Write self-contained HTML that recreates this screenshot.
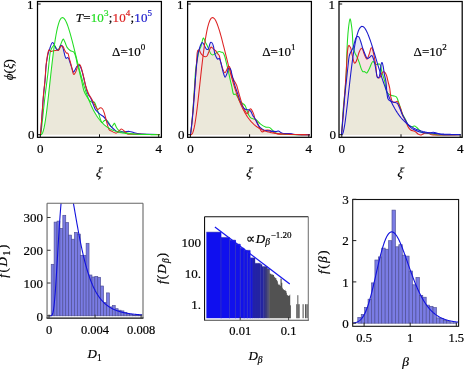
<!DOCTYPE html>
<html><head><meta charset="utf-8"><style>
html,body{margin:0;padding:0;background:#fff;overflow:hidden}
svg{display:block;font-family:"Liberation Serif",serif;will-change:transform}
</style></head><body>
<svg width="465" height="369" viewBox="0 0 465 369">
<rect width="465" height="369" fill="#fff"/>
<defs><clipPath id="c4"><rect x="47.05" y="203.2" width="95.95" height="114.9"/></clipPath>
<clipPath id="c5"><rect x="204.55" y="216.7" width="103.75" height="103.5"/></clipPath>
<clipPath id="c6"><rect x="352.7" y="199.5" width="105.9" height="126.8"/></clipPath></defs>
<g stroke="#4e4e94" stroke-width="0.65" fill="#7a7ce4">
<rect x="51.2" y="264.3" width="2.91" height="51.5"/>
<rect x="54.11" y="222.1" width="2.91" height="93.7"/>
<rect x="57.02" y="221.1" width="2.91" height="94.7"/>
<rect x="59.93" y="228.4" width="2.91" height="87.4"/>
<rect x="62.84" y="215.3" width="2.91" height="100.5"/>
<rect x="65.75" y="222.5" width="2.91" height="93.3"/>
<rect x="68.66" y="235.1" width="2.91" height="80.7"/>
<rect x="71.57" y="239.2" width="2.91" height="76.6"/>
<rect x="74.48" y="232.4" width="2.91" height="83.4"/>
<rect x="77.39" y="234.1" width="2.91" height="81.7"/>
<rect x="80.3" y="255.4" width="2.91" height="60.4"/>
<rect x="83.21" y="255.4" width="2.91" height="60.4"/>
<rect x="86.12" y="243.3" width="2.91" height="72.5"/>
<rect x="89.03" y="275" width="2.91" height="40.8"/>
<rect x="91.94" y="277" width="2.91" height="38.8"/>
<rect x="94.85" y="276.4" width="2.91" height="39.4"/>
<rect x="97.76" y="277.3" width="2.91" height="38.5"/>
<rect x="100.67" y="286" width="2.91" height="29.8"/>
<rect x="103.58" y="302.4" width="2.91" height="13.4"/>
<rect x="106.49" y="292.9" width="2.91" height="22.9"/>
<rect x="109.4" y="306.9" width="2.91" height="8.9"/>
<rect x="112.31" y="305.5" width="2.91" height="10.3"/>
<rect x="115.22" y="308.7" width="2.91" height="7.1"/>
<rect x="118.13" y="310.2" width="2.91" height="5.6"/>
<rect x="121.04" y="310.9" width="2.91" height="4.9"/>
<rect x="123.95" y="312.3" width="2.91" height="3.5"/>
<rect x="126.86" y="314.6" width="2.91" height="1.2"/>
<rect x="129.77" y="314.6" width="2.91" height="1.2"/>
<rect x="132.68" y="315.2" width="2.91" height="0.6"/>
<rect x="135.59" y="315.2" width="2.91" height="0.6"/>
<rect x="138.5" y="315.2" width="2.91" height="0.6"/>
</g>
<path d="M49.23,315.8 L49.47,315.8 L49.7,315.8 L49.93,315.8 L50.17,315.8 L50.4,315.8 L50.64,315.79 L50.87,315.77 L51.1,315.74 L51.34,315.66 L51.57,315.54 L51.8,315.35 L52.04,315.05 L52.27,314.64 L52.51,314.09 L52.74,313.37 L52.97,312.47 L53.21,311.37 L53.44,310.05 L53.67,308.5 L53.91,306.73 L54.14,304.73 L54.38,302.5 L54.61,300.04 L54.84,297.37 L55.08,294.5 L55.31,291.44 L55.54,288.2 L55.78,284.81 L56.01,281.28 L56.24,277.62 L56.48,273.87 L56.71,270.03 L56.95,266.12 L57.18,262.18 L57.41,258.2 L57.65,254.22 L57.88,250.24 L58.11,246.29 L58.35,242.37 L58.58,238.51 L58.82,234.7 L59.05,230.98 L59.28,227.34 L59.52,223.79 L59.75,220.35 L59.98,217.02 L60.22,213.8 L60.45,210.71 L60.69,207.75 L60.92,204.91 L61.15,202.21 L61.39,199.65 L61.62,197.22 L61.85,194.94 L62.09,192.79 L62.32,190.78 L62.55,188.91 L62.79,187.18 L63.02,185.58 L63.26,184.12 L63.49,182.79 L63.72,181.58 L63.96,180.51 L64.19,179.55 L64.42,178.72 L64.66,178.01 L64.89,177.4 L65.13,176.91 L65.36,176.53 L65.59,176.25 L65.83,176.07 L66.06,175.98 L66.29,175.99 L66.53,176.08 L66.76,176.26 L67,176.52 L67.23,176.86 L67.46,177.28 L67.7,177.76 L67.93,178.31 L68.16,178.92 L68.4,179.59 L68.63,180.33 L68.86,181.11 L69.1,181.94 L69.33,182.83 L69.57,183.75 L69.8,184.72 L70.03,185.73 L70.27,186.78 L70.5,187.86 L70.73,188.97 L70.97,190.11 L71.2,191.27 L71.44,192.46 L71.67,193.68 L71.9,194.91 L72.14,196.16 L72.37,197.43 L72.6,198.72 L72.84,200.01 L73.07,201.32 L73.31,202.64 L73.54,203.97 L73.77,205.3 L74.01,206.64 L74.24,207.98 L74.47,209.33 L74.71,210.68 L74.94,212.03 L75.17,213.38 L75.41,214.72 L75.64,216.07 L75.88,217.41 L76.11,218.75 L76.34,220.08 L76.58,221.41 L76.81,222.73 L77.04,224.05 L77.28,225.36 L77.51,226.66 L77.75,227.95 L77.98,229.23 L78.21,230.5 L78.45,231.77 L78.68,233.02 L78.91,234.26 L79.15,235.49 L79.38,236.71 L79.61,237.92 L79.85,239.11 L80.08,240.3 L80.32,241.47 L80.55,242.63 L80.78,243.77 L81.02,244.91 L81.25,246.03 L81.48,247.14 L81.72,248.23 L81.95,249.31 L82.19,250.38 L82.42,251.43 L82.65,252.47 L82.89,253.5 L83.12,254.52 L83.35,255.52 L83.59,256.5 L83.82,257.48 L84.06,258.44 L84.29,259.39 L84.52,260.32 L84.76,261.24 L84.99,262.15 L85.22,263.04 L85.46,263.92 L85.69,264.79 L85.92,265.65 L86.16,266.49 L86.39,267.32 L86.63,268.14 L86.86,268.95 L87.09,269.74 L87.33,270.52 L87.56,271.29 L87.79,272.05 L88.03,272.79 L88.26,273.52 L88.5,274.25 L88.73,274.96 L88.96,275.65 L89.2,276.34 L89.43,277.02 L89.66,277.68 L89.9,278.34 L90.13,278.98 L90.37,279.61 L90.6,280.24 L90.83,280.85 L91.07,281.45 L91.3,282.05 L91.53,282.63 L91.77,283.2 L92,283.76 L92.23,284.32 L92.47,284.86 L92.7,285.4 L92.94,285.92 L93.17,286.44 L93.4,286.95 L93.64,287.45 L93.87,287.94 L94.1,288.42 L94.34,288.9 L94.57,289.36 L94.81,289.82 L95.04,290.27 L95.27,290.72 L95.51,291.15 L95.74,291.58 L95.97,292 L96.21,292.41 L96.44,292.82 L96.68,293.22 L96.91,293.61 L97.14,293.99 L97.38,294.37 L97.61,294.74 L97.84,295.11 L98.08,295.47 L98.31,295.82 L98.54,296.16 L98.78,296.5 L99.01,296.84 L99.25,297.17 L99.48,297.49 L99.71,297.8 L99.95,298.12 L100.18,298.42 L100.41,298.72 L100.65,299.02 L100.88,299.31 L101.12,299.59 L101.35,299.87 L101.58,300.14 L101.82,300.41 L102.05,300.68 L102.28,300.94 L102.52,301.19 L102.75,301.45 L102.99,301.69 L103.22,301.93 L103.45,302.17 L103.69,302.41 L103.92,302.64 L104.15,302.86 L104.39,303.08 L104.62,303.3 L104.85,303.51 L105.09,303.72 L105.32,303.93 L105.56,304.13 L105.79,304.33 L106.02,304.53 L106.26,304.72 L106.49,304.91 L106.72,305.09 L106.96,305.28 L107.19,305.45 L107.43,305.63 L107.66,305.8 L107.89,305.97 L108.13,306.14 L108.36,306.3 L108.59,306.46 L108.83,306.62 L109.06,306.78 L109.3,306.93 L109.53,307.08 L109.76,307.22 L110,307.37 L110.23,307.51 L110.46,307.65 L110.7,307.79 L110.93,307.92 L111.16,308.05 L111.4,308.18 L111.63,308.31 L111.87,308.44 L112.1,308.56 L112.33,308.68 L112.57,308.8 L112.8,308.91 L113.03,309.03 L113.27,309.14 L113.5,309.25 L113.74,309.36 L113.97,309.47 L114.2,309.57 L114.44,309.68 L114.67,309.78 L114.9,309.88 L115.14,309.97 L115.37,310.07 L115.61,310.17 L115.84,310.26 L116.07,310.35 L116.31,310.44 L116.54,310.53 L116.77,310.61 L117.01,310.7 L117.24,310.78 L117.47,310.86 L117.71,310.95 L117.94,311.02 L118.18,311.1 L118.41,311.18 L118.64,311.25 L118.88,311.33 L119.11,311.4 L119.34,311.47 L119.58,311.54 L119.81,311.61 L120.05,311.68 L120.28,311.75 L120.51,311.81 L120.75,311.88 L120.98,311.94 L121.21,312 L121.45,312.06 L121.68,312.12 L121.92,312.18 L122.15,312.24 L122.38,312.3 L122.62,312.35 L122.85,312.41 L123.08,312.46 L123.32,312.52 L123.55,312.57 L123.78,312.62 L124.02,312.67 L124.25,312.72 L124.49,312.77 L124.72,312.82 L124.95,312.86 L125.19,312.91 L125.42,312.96 L125.65,313 L125.89,313.05 L126.12,313.09 L126.36,313.13 L126.59,313.17 L126.82,313.22 L127.06,313.26 L127.29,313.3 L127.52,313.34 L127.76,313.37 L127.99,313.41 L128.23,313.45 L128.46,313.49 L128.69,313.52 L128.93,313.56 L129.16,313.59 L129.39,313.63 L129.63,313.66 L129.86,313.69 L130.09,313.73 L130.33,313.76 L130.56,313.79 L130.8,313.82 L131.03,313.85 L131.26,313.88 L131.5,313.91 L131.73,313.94 L131.96,313.97 L132.2,314 L132.43,314.03 L132.67,314.05 L132.9,314.08 L133.13,314.11 L133.37,314.13 L133.6,314.16 L133.83,314.18 L134.07,314.21 L134.3,314.23 L134.54,314.26 L134.77,314.28 L135,314.3 L135.24,314.32 L135.47,314.35 L135.7,314.37 L135.94,314.39 L136.17,314.41 L136.4,314.43 L136.64,314.45 L136.87,314.47 L137.11,314.49 L137.34,314.51 L137.57,314.53 L137.81,314.55 L138.04,314.57 L138.27,314.59 L138.51,314.61 L138.74,314.62 L138.98,314.64 L139.21,314.66 L139.44,314.68 L139.68,314.69 L139.91,314.71 L140.14,314.73 L140.38,314.74 L140.61,314.76 L140.84,314.77 L141.08,314.79 L141.31,314.8 L141.55,314.82 L141.78,314.83 L142.01,314.85 L142.25,314.86" fill="none" stroke="#1010dd" stroke-width="1.1" clip-path="url(#c4)"/>
<line x1="47.05" y1="203.2" x2="143" y2="203.2" stroke="#666" stroke-width="1.1"/>
<line x1="47.05" y1="203.2" x2="47.05" y2="318.1" stroke="#666" stroke-width="1.1"/>
<line x1="143" y1="203.2" x2="143" y2="318.1" stroke="#666" stroke-width="1.1"/>
<line x1="46.55" y1="318.1" x2="143.5" y2="318.1" stroke="#111" stroke-width="1.1"/>
<line x1="47.05" y1="315.8" x2="50.55" y2="315.8" stroke="#333" stroke-width="1"/>
<text x="43" y="320.5" font-size="13" text-anchor="end" fill="#000" stroke="#000" stroke-width="0.2" style="">0</text>
<line x1="47.05" y1="283.03" x2="50.55" y2="283.03" stroke="#333" stroke-width="1"/>
<text x="43" y="287.73" font-size="13" text-anchor="end" fill="#000" stroke="#000" stroke-width="0.2" style="">100</text>
<line x1="47.05" y1="250.26" x2="50.55" y2="250.26" stroke="#333" stroke-width="1"/>
<text x="43" y="254.96" font-size="13" text-anchor="end" fill="#000" stroke="#000" stroke-width="0.2" style="">200</text>
<line x1="47.05" y1="217.49" x2="50.55" y2="217.49" stroke="#333" stroke-width="1"/>
<text x="43" y="222.19" font-size="13" text-anchor="end" fill="#000" stroke="#000" stroke-width="0.2" style="">300</text>
<line x1="49" y1="318.1" x2="49" y2="314.6" stroke="#333" stroke-width="1"/>
<text x="49" y="333.9" font-size="12.5" text-anchor="middle" fill="#000" stroke="#000" stroke-width="0.2" style="">0</text>
<line x1="95.05" y1="318.1" x2="95.05" y2="314.6" stroke="#333" stroke-width="1"/>
<text x="95.05" y="333.9" font-size="12.5" text-anchor="middle" fill="#000" stroke="#000" stroke-width="0.2" style="">0.004</text>
<line x1="141.1" y1="318.1" x2="141.1" y2="314.6" stroke="#333" stroke-width="1"/>
<text x="141.1" y="333.9" font-size="12.5" text-anchor="middle" fill="#000" stroke="#000" stroke-width="0.2" style="">0.008</text>
<text x="87.6" y="358" font-size="13" fill="#000" stroke="#000" stroke-width="0.2"><tspan font-style="italic">D</tspan><tspan font-size="9.5" dy="2.8">1</tspan></text>
<text transform="translate(6.9,261.2) rotate(-90)" font-size="13" text-anchor="middle" textLength="33" lengthAdjust="spacing" fill="#000" stroke="#000" stroke-width="0.2"><tspan font-style="italic">f</tspan>(<tspan font-style="italic">D</tspan><tspan font-size="9.5" dy="2.8">1</tspan><tspan dy="-2.8">)</tspan></text>
<g clip-path="url(#c5)">
<rect x="206.37" y="232.1" width="14.97" height="86.1" fill="#0f0fef"/>
<rect x="220.94" y="237.4" width="8.92" height="80.8" fill="#1010ed"/>
<rect x="229.46" y="240.1" width="6.45" height="78.1" fill="#1111ec"/>
<rect x="235.51" y="244.1" width="5.09" height="74.1" fill="#1111eb"/>
<rect x="240.2" y="248.1" width="4.23" height="70.1" fill="#1111ea"/>
<rect x="244.03" y="250.3" width="3.64" height="67.9" fill="#1212e9"/>
<rect x="247.27" y="250.3" width="3.21" height="67.9" fill="#1212e8"/>
<rect x="250.08" y="257.9" width="2.88" height="60.3" fill="#1515da"/>
<rect x="252.56" y="257.9" width="2.61" height="60.3" fill="#2222a7"/>
<rect x="254.77" y="263.3" width="2.4" height="54.9" fill="#2323a6"/>
<rect x="256.77" y="263.3" width="2.23" height="54.9" fill="#2323a4"/>
<rect x="258.6" y="263.3" width="2.08" height="54.9" fill="#2323a3"/>
<rect x="260.28" y="264.4" width="1.96" height="53.8" fill="#2424a1"/>
<rect x="261.84" y="266.6" width="1.85" height="51.6" fill="#2424a0"/>
<rect x="263.29" y="266.6" width="1.76" height="51.6" fill="#2d2d92"/>
<rect x="264.65" y="266.6" width="1.67" height="51.6" fill="#373782"/>
<rect x="265.92" y="266.6" width="1.6" height="51.6" fill="#3c3c78"/>
<rect x="267.13" y="268.75" width="1.54" height="49.45" fill="#41416e"/>
<rect x="268.26" y="268.95" width="1.48" height="49.25" fill="#454566"/>
<line x1="220.94" y1="237.4" x2="220.94" y2="318.2" stroke="#4040b0" stroke-width="0.6"/>
<line x1="229.46" y1="240.1" x2="229.46" y2="318.2" stroke="#4040b0" stroke-width="0.6"/>
<line x1="235.51" y1="244.1" x2="235.51" y2="318.2" stroke="#4040b0" stroke-width="0.6"/>
<line x1="240.2" y1="248.1" x2="240.2" y2="318.2" stroke="#4040b0" stroke-width="0.6"/>
<line x1="244.03" y1="250.3" x2="244.03" y2="318.2" stroke="#4040b0" stroke-width="0.6"/>
<line x1="247.27" y1="250.3" x2="247.27" y2="318.2" stroke="#4040b0" stroke-width="0.6"/>
<line x1="250.08" y1="257.9" x2="250.08" y2="318.2" stroke="#4040b0" stroke-width="0.6"/>
<line x1="206.37" y1="232.1" x2="220.94" y2="232.1" stroke="#3a3aa0" stroke-width="0.5"/>
<line x1="220.94" y1="237.4" x2="229.46" y2="237.4" stroke="#3a3aa0" stroke-width="0.5"/>
<line x1="229.46" y1="240.1" x2="235.51" y2="240.1" stroke="#3a3aa0" stroke-width="0.5"/>
<line x1="235.51" y1="244.1" x2="240.2" y2="244.1" stroke="#3a3aa0" stroke-width="0.5"/>
<line x1="240.2" y1="248.1" x2="244.03" y2="248.1" stroke="#3a3aa0" stroke-width="0.5"/>
<line x1="244.03" y1="250.3" x2="247.27" y2="250.3" stroke="#3a3aa0" stroke-width="0.5"/>
<line x1="247.27" y1="250.3" x2="250.08" y2="250.3" stroke="#3a3aa0" stroke-width="0.5"/>
<line x1="250.08" y1="257.9" x2="252.56" y2="257.9" stroke="#3a3aa0" stroke-width="0.5"/>
<line x1="252.56" y1="257.9" x2="254.77" y2="257.9" stroke="#3a3aa0" stroke-width="0.5"/>
<line x1="254.77" y1="263.3" x2="256.77" y2="263.3" stroke="#3a3aa0" stroke-width="0.5"/>
<line x1="256.77" y1="263.3" x2="258.6" y2="263.3" stroke="#3a3aa0" stroke-width="0.5"/>
<line x1="258.6" y1="263.3" x2="260.28" y2="263.3" stroke="#3a3aa0" stroke-width="0.5"/>
<line x1="260.28" y1="264.4" x2="261.84" y2="264.4" stroke="#3a3aa0" stroke-width="0.5"/>
<line x1="261.84" y1="266.6" x2="263.29" y2="266.6" stroke="#3a3aa0" stroke-width="0.5"/>
<line x1="263.29" y1="266.6" x2="264.65" y2="266.6" stroke="#3a3aa0" stroke-width="0.5"/>
<line x1="264.65" y1="266.6" x2="265.92" y2="266.6" stroke="#3a3aa0" stroke-width="0.5"/>
<line x1="265.92" y1="266.6" x2="267.13" y2="266.6" stroke="#3a3aa0" stroke-width="0.5"/>
<line x1="267.13" y1="268.75" x2="268.26" y2="268.75" stroke="#3a3aa0" stroke-width="0.5"/>
<line x1="268.26" y1="268.95" x2="269.34" y2="268.95" stroke="#3a3aa0" stroke-width="0.5"/>
<path d="M269.34,318.2 L269.34,273.41 L270.37,273.41 L270.37,273.64 L271.34,273.64 L271.34,274.38 L272.28,274.38 L272.28,274.44 L273.17,274.44 L273.17,275 L274.03,275 L274.03,276.8 L274.85,276.8 L274.85,277.72 L275.65,277.72 L275.65,278.23 L276.41,278.23 L276.41,279.95 L277.15,279.95 L277.15,281.36 L277.86,281.36 L277.86,283.79 L278.55,283.79 L278.55,284.93 L279.22,284.93 L279.22,284.42 L279.87,284.42 L279.87,285.73 L280.49,285.73 L280.49,278.41 L281.1,278.41 L281.1,278.87 L281.69,278.87 L281.69,282.7 L282.27,282.7 L282.27,287.86 L282.83,287.86 L282.83,289.32 L283.38,289.32 L283.38,289.23 L283.91,289.23 L283.91,290.12 L284.43,290.12 L284.43,290.16 L284.94,290.16 L284.94,289.74 L285.43,289.74 L285.43,290.94 L285.91,290.94 L285.91,291 L286.39,291 L286.39,292.84 L286.85,292.84 L286.85,294.77 L287.3,294.77 L287.3,295.33 L287.74,295.33 L287.74,295.13 L288.18,295.13 L288.18,295.74 L288.6,295.74 L288.6,295.91 L289.02,295.91 L289.02,295.16 L289.42,295.16 L289.42,295.46 L289.82,295.46 L289.82,294.5 L290.22,294.5 L290.22,318.2 Z" fill="#525252"/>
<rect x="290.1" y="305.3" width="0.8" height="12.9" fill="#484848"/>
<rect x="296.3" y="304.2" width="1.1" height="14" fill="#484848"/>
<rect x="297.4" y="295.2" width="0.9" height="23" fill="#484848"/>
<rect x="298.3" y="304.2" width="1.3" height="14" fill="#484848"/>
<rect x="302.6" y="304.2" width="1" height="14" fill="#484848"/>
<rect x="305" y="304.2" width="0.9" height="14" fill="#484848"/>
<rect x="306.4" y="304.2" width="1.3" height="14" fill="#484848"/>
</g>
<line x1="214.9" y1="226.9" x2="289.8" y2="284.1" stroke="#1818ee" stroke-width="1.2"/>
<line x1="240.2" y1="320.2" x2="240.2" y2="317" stroke="#333" stroke-width="0.9"/>
<line x1="288.6" y1="320.2" x2="288.6" y2="317" stroke="#333" stroke-width="0.9"/>
<line x1="204.55" y1="216.7" x2="308.3" y2="216.7" stroke="#111" stroke-width="1.1"/>
<line x1="204.55" y1="216.7" x2="204.55" y2="320.2" stroke="#111" stroke-width="1.1"/>
<line x1="308.3" y1="216.7" x2="308.3" y2="320.2" stroke="#777" stroke-width="1.1"/>
<line x1="204.05" y1="320.2" x2="308.8" y2="320.2" stroke="#444" stroke-width="1.1"/>
<text x="200.9" y="246.5" font-size="13" text-anchor="end" fill="#000" stroke="#000" stroke-width="0.2" style="">100</text>
<text x="200.9" y="277.8" font-size="13" text-anchor="end" fill="#000" stroke="#000" stroke-width="0.2" style="">10.</text>
<text x="200.9" y="309.1" font-size="13" text-anchor="end" fill="#000" stroke="#000" stroke-width="0.2" style="">1.</text>
<text x="240.2" y="335.4" font-size="12.5" text-anchor="middle" fill="#000" stroke="#000" stroke-width="0.2" style="">0.01</text>
<text x="288.6" y="335.4" font-size="12.5" text-anchor="middle" fill="#000" stroke="#000" stroke-width="0.2" style="">0.1</text>
<text x="248.4" y="360.2" font-size="13" fill="#000" stroke="#000" stroke-width="0.2"><tspan font-style="italic">D</tspan><tspan font-size="9.5" dy="2.8" font-style="italic">&#946;</tspan></text>
<text transform="translate(165.7,268.4) rotate(-90)" font-size="13" text-anchor="middle" textLength="31" lengthAdjust="spacing" fill="#000" stroke="#000" stroke-width="0.2"><tspan font-style="italic">f</tspan>(<tspan font-style="italic">D</tspan><tspan font-size="9.5" dy="2.8" font-style="italic">&#946;</tspan><tspan dy="-2.8">)</tspan></text>
<text x="246.2" y="242.6" font-size="13" fill="#000" stroke="#000" stroke-width="0.2">&#8733;<tspan font-style="italic" dx="0.6">D</tspan><tspan font-size="9.5" dy="2.4" font-style="italic">&#946;</tspan><tspan font-size="9" dy="-7.1" dx="0.8">&#8722;1.20</tspan></text>
<g stroke="#4e4e94" stroke-width="0.65" fill="#7a7ce4">
<rect x="357.8" y="317.4" width="3.42" height="5.8"/>
<rect x="361.22" y="314.4" width="3.42" height="8.8"/>
<rect x="364.64" y="307.5" width="3.42" height="15.7"/>
<rect x="368.06" y="299.2" width="3.42" height="24"/>
<rect x="371.48" y="282.9" width="3.42" height="40.3"/>
<rect x="374.9" y="260" width="3.42" height="63.2"/>
<rect x="378.32" y="256.9" width="3.42" height="66.3"/>
<rect x="381.74" y="248.1" width="3.42" height="75.1"/>
<rect x="385.16" y="249.2" width="3.42" height="74"/>
<rect x="388.58" y="240.7" width="3.42" height="82.5"/>
<rect x="392" y="210.1" width="3.42" height="113.1"/>
<rect x="395.42" y="246.8" width="3.42" height="76.4"/>
<rect x="398.84" y="244.7" width="3.42" height="78.5"/>
<rect x="402.26" y="255.1" width="3.42" height="68.1"/>
<rect x="405.68" y="256.1" width="3.42" height="67.1"/>
<rect x="409.1" y="271" width="3.42" height="52.2"/>
<rect x="412.52" y="284.8" width="3.42" height="38.4"/>
<rect x="415.94" y="277.5" width="3.42" height="45.7"/>
<rect x="419.36" y="295.4" width="3.42" height="27.8"/>
<rect x="422.78" y="297.2" width="3.42" height="26"/>
<rect x="426.2" y="305.1" width="3.42" height="18.1"/>
<rect x="429.62" y="306.3" width="3.42" height="16.9"/>
<rect x="433.04" y="307.6" width="3.42" height="15.6"/>
<rect x="436.46" y="317.9" width="3.42" height="5.3"/>
<rect x="439.88" y="318.5" width="3.42" height="4.7"/>
<rect x="443.3" y="320.4" width="3.42" height="2.8"/>
<rect x="446.72" y="321.6" width="3.42" height="1.6"/>
<rect x="450.14" y="322.8" width="3.42" height="0.4"/>
<rect x="453.56" y="322.8" width="3.42" height="0.4"/>
</g>
<path d="M353.22,322.95 L353.57,322.91 L353.92,322.86 L354.27,322.81 L354.62,322.75 L354.97,322.68 L355.33,322.6 L355.68,322.51 L356.03,322.41 L356.38,322.3 L356.73,322.18 L357.08,322.04 L357.43,321.89 L357.78,321.73 L358.13,321.54 L358.48,321.34 L358.84,321.12 L359.19,320.89 L359.54,320.63 L359.89,320.35 L360.24,320.04 L360.59,319.71 L360.94,319.36 L361.29,318.98 L361.64,318.57 L361.99,318.13 L362.34,317.66 L362.7,317.16 L363.05,316.63 L363.4,316.07 L363.75,315.47 L364.1,314.84 L364.45,314.18 L364.8,313.48 L365.15,312.74 L365.5,311.97 L365.85,311.16 L366.2,310.32 L366.56,309.44 L366.91,308.52 L367.26,307.56 L367.61,306.57 L367.96,305.54 L368.31,304.48 L368.66,303.38 L369.01,302.25 L369.36,301.08 L369.71,299.88 L370.06,298.64 L370.42,297.38 L370.77,296.09 L371.12,294.77 L371.47,293.42 L371.82,292.04 L372.17,290.65 L372.52,289.23 L372.87,287.79 L373.22,286.33 L373.57,284.85 L373.92,283.36 L374.28,281.85 L374.63,280.34 L374.98,278.82 L375.33,277.28 L375.68,275.75 L376.03,274.21 L376.38,272.67 L376.73,271.14 L377.08,269.61 L377.43,268.08 L377.78,266.56 L378.14,265.06 L378.49,263.56 L378.84,262.09 L379.19,260.63 L379.54,259.18 L379.89,257.76 L380.24,256.37 L380.59,254.99 L380.94,253.65 L381.29,252.33 L381.64,251.05 L382,249.79 L382.35,248.57 L382.7,247.39 L383.05,246.24 L383.4,245.13 L383.75,244.06 L384.1,243.03 L384.45,242.04 L384.8,241.09 L385.15,240.19 L385.5,239.33 L385.86,238.51 L386.21,237.75 L386.56,237.03 L386.91,236.35 L387.26,235.72 L387.61,235.14 L387.96,234.61 L388.31,234.13 L388.66,233.69 L389.01,233.3 L389.36,232.96 L389.72,232.67 L390.07,232.42 L390.42,232.22 L390.77,232.07 L391.12,231.96 L391.47,231.9 L391.82,231.89 L392.17,231.92 L392.52,231.99 L392.87,232.11 L393.22,232.27 L393.58,232.47 L393.93,232.72 L394.28,233 L394.63,233.32 L394.98,233.68 L395.33,234.07 L395.68,234.51 L396.03,234.97 L396.38,235.47 L396.73,236.01 L397.08,236.57 L397.44,237.17 L397.79,237.79 L398.14,238.44 L398.49,239.12 L398.84,239.83 L399.19,240.56 L399.54,241.31 L399.89,242.09 L400.24,242.89 L400.59,243.7 L400.94,244.54 L401.3,245.4 L401.65,246.27 L402,247.15 L402.35,248.05 L402.7,248.97 L403.05,249.9 L403.4,250.83 L403.75,251.78 L404.1,252.74 L404.45,253.71 L404.8,254.68 L405.16,255.66 L405.51,256.65 L405.86,257.63 L406.21,258.63 L406.56,259.62 L406.91,260.62 L407.26,261.62 L407.61,262.62 L407.96,263.62 L408.31,264.62 L408.66,265.62 L409.02,266.61 L409.37,267.6 L409.72,268.59 L410.07,269.57 L410.42,270.55 L410.77,271.53 L411.12,272.49 L411.47,273.46 L411.82,274.41 L412.17,275.36 L412.53,276.3 L412.88,277.23 L413.23,278.15 L413.58,279.06 L413.93,279.97 L414.28,280.86 L414.63,281.75 L414.98,282.62 L415.33,283.49 L415.68,284.34 L416.03,285.19 L416.39,286.02 L416.74,286.84 L417.09,287.65 L417.44,288.45 L417.79,289.24 L418.14,290.01 L418.49,290.78 L418.84,291.53 L419.19,292.27 L419.54,293 L419.89,293.71 L420.25,294.42 L420.6,295.11 L420.95,295.79 L421.3,296.46 L421.65,297.12 L422,297.76 L422.35,298.39 L422.7,299.01 L423.05,299.62 L423.4,300.22 L423.75,300.81 L424.11,301.38 L424.46,301.94 L424.81,302.49 L425.16,303.03 L425.51,303.56 L425.86,304.08 L426.21,304.58 L426.56,305.08 L426.91,305.56 L427.26,306.04 L427.61,306.5 L427.97,306.96 L428.32,307.4 L428.67,307.83 L429.02,308.26 L429.37,308.67 L429.72,309.07 L430.07,309.47 L430.42,309.85 L430.77,310.23 L431.12,310.59 L431.47,310.95 L431.83,311.3 L432.18,311.64 L432.53,311.97 L432.88,312.3 L433.23,312.61 L433.58,312.92 L433.93,313.22 L434.28,313.51 L434.63,313.79 L434.98,314.07 L435.33,314.34 L435.69,314.6 L436.04,314.86 L436.39,315.11 L436.74,315.35 L437.09,315.59 L437.44,315.82 L437.79,316.04 L438.14,316.26 L438.49,316.47 L438.84,316.67 L439.19,316.87 L439.55,317.07 L439.9,317.26 L440.25,317.44 L440.6,317.62 L440.95,317.79 L441.3,317.96 L441.65,318.12 L442,318.28 L442.35,318.44 L442.7,318.59 L443.05,318.73 L443.41,318.87 L443.76,319.01 L444.11,319.14 L444.46,319.27 L444.81,319.4 L445.16,319.52 L445.51,319.64 L445.86,319.75 L446.21,319.86 L446.56,319.97 L446.91,320.07 L447.27,320.18 L447.62,320.27 L447.97,320.37 L448.32,320.46 L448.67,320.55 L449.02,320.64 L449.37,320.72 L449.72,320.8 L450.07,320.88 L450.42,320.96 L450.77,321.03 L451.13,321.1 L451.48,321.17 L451.83,321.24 L452.18,321.31 L452.53,321.37 L452.88,321.43 L453.23,321.49 L453.58,321.55 L453.93,321.6 L454.28,321.66 L454.63,321.71 L454.99,321.76 L455.34,321.81 L455.69,321.85 L456.04,321.9 L456.39,321.94 L456.74,321.99 L457.09,322.03 L457.44,322.07 L457.79,322.11 L458.14,322.14" fill="none" stroke="#1010dd" stroke-width="1.1" clip-path="url(#c6)"/>
<rect x="352.7" y="199.5" width="105.9" height="126.8" fill="none" stroke="#111" stroke-width="1.1"/>
<line x1="352.7" y1="323.2" x2="356.3" y2="323.2" stroke="#222" stroke-width="1"/>
<text x="348.7" y="327.8" font-size="13" text-anchor="end" fill="#000" stroke="#000" stroke-width="0.2" style="">0</text>
<line x1="352.7" y1="281.9" x2="356.3" y2="281.9" stroke="#222" stroke-width="1"/>
<text x="348.7" y="286.5" font-size="13" text-anchor="end" fill="#000" stroke="#000" stroke-width="0.2" style="">1</text>
<line x1="352.7" y1="240.6" x2="356.3" y2="240.6" stroke="#222" stroke-width="1"/>
<text x="348.7" y="245.2" font-size="13" text-anchor="end" fill="#000" stroke="#000" stroke-width="0.2" style="">2</text>
<line x1="352.7" y1="199.3" x2="356.3" y2="199.3" stroke="#222" stroke-width="1"/>
<text x="348.7" y="203.9" font-size="13" text-anchor="end" fill="#000" stroke="#000" stroke-width="0.2" style="">3</text>
<line x1="364.1" y1="326.3" x2="364.1" y2="322.7" stroke="#222" stroke-width="1"/>
<text x="364.1" y="342.3" font-size="12.5" text-anchor="middle" fill="#000" stroke="#000" stroke-width="0.2" style="">0.5</text>
<line x1="410.2" y1="326.3" x2="410.2" y2="322.7" stroke="#222" stroke-width="1"/>
<text x="410.2" y="342.3" font-size="12.5" text-anchor="middle" fill="#000" stroke="#000" stroke-width="0.2" style="">1</text>
<line x1="456.3" y1="326.3" x2="456.3" y2="322.7" stroke="#222" stroke-width="1"/>
<text x="456.3" y="342.3" font-size="12.5" text-anchor="middle" fill="#000" stroke="#000" stroke-width="0.2" style="">1.5</text>
<text x="405.6" y="366.2" font-size="13.5" text-anchor="middle" fill="#000" stroke="#000" stroke-width="0.2" style="font-style:italic;">&#946;</text>
<text transform="translate(327.4,262.2) rotate(-90)" font-size="13" text-anchor="middle" textLength="23.5" lengthAdjust="spacing" fill="#000" stroke="#000" stroke-width="0.2"><tspan font-style="italic">f</tspan>(<tspan font-style="italic">&#946;</tspan>)</text>
<path d="M40.3,134.7 L40.3,134.7 L40.55,134.67 L40.8,134.65 L41.05,134.62 L41.3,134.45 L41.55,134.28 L41.8,134.1 L42.05,133.7 L42.3,133.3 L42.55,132.89 L42.8,132.2 L43.05,131.52 L43.3,130.82 L43.55,129.84 L43.8,128.86 L44.05,127.86 L44.3,126.59 L44.55,125.32 L44.8,124.03 L45.05,122.48 L45.3,120.94 L45.55,119.39 L45.8,117.61 L46.05,115.84 L46.3,114.05 L46.55,112.08 L46.8,110.11 L47.05,108.13 L47.3,106.02 L47.55,103.9 L47.8,101.77 L48.05,99.55 L48.3,97.33 L48.55,95.1 L48.8,92.82 L49.05,90.53 L49.3,88.25 L49.55,85.94 L49.8,83.64 L50.05,81.33 L50.3,79.04 L50.55,76.75 L50.8,74.47 L51.05,72.23 L51.3,69.99 L51.55,67.76 L51.8,65.6 L52.05,63.44 L52.3,61.3 L52.55,59.24 L52.8,57.18 L53.05,55.14 L53.3,53.21 L53.55,51.27 L53.8,50.8 L54.05,50.76 L54.3,50.72 L54.55,50.68 L54.8,50.63 L55.05,50.59 L55.3,50.53 L55.55,50.46 L55.8,50.4 L56.05,50.34 L56.3,50.28 L56.55,50.21 L56.8,50.2 L57.05,50.2 L57.3,50.2 L57.55,50.2 L57.8,50.2 L58.05,50.2 L58.3,50.2 L58.55,49.93 L58.8,49.66 L59.05,49.39 L59.3,49.12 L59.55,48.8 L59.8,48.3 L60.05,47.8 L60.3,47.3 L60.55,46.8 L60.8,46.48 L61.05,46.41 L61.3,46.35 L61.55,46.29 L61.8,46.23 L62.05,46.16 L62.3,46.1 L62.55,46.87 L62.8,47.64 L63.05,48.41 L63.3,49.18 L63.55,50.02 L63.8,51.09 L64.05,52.17 L64.3,53.25 L64.55,54.32 L64.8,55.4 L65.05,56 L65.3,56.61 L65.55,57.21 L65.8,57.82 L66.05,58.27 L66.3,58.15 L66.55,58.02 L66.8,57.9 L67.05,57.77 L67.3,57.65 L67.55,57.52 L67.8,57.7 L68.05,57.95 L68.3,58.2 L68.55,58.45 L68.8,58.7 L69.05,59.48 L69.3,60.26 L69.55,61.04 L69.8,61.82 L70.05,62.61 L70.3,63.39 L70.55,64.15 L70.8,64.9 L71.05,65.65 L71.3,66.4 L71.55,67.15 L71.8,67.9 L72.05,68.65 L72.3,69.4 L72.55,70.4 L72.8,71.4 L73.05,72.4 L73.3,73.4 L73.55,74.14 L73.8,73.85 L74.05,73.56 L74.3,73.27 L74.55,72.98 L74.8,72.69 L75.05,72.4 L75.3,72.11 L75.55,71.82 L75.8,71.53 L76.05,71.15 L76.3,70.37 L76.55,69.6 L76.8,68.82 L77.05,68.05 L77.3,67.28 L77.55,66.5 L77.8,66.05 L78.05,66.92 L78.3,67.8 L78.55,68.67 L78.8,69.55 L79.05,70.42 L79.3,71.3 L79.55,72.21 L79.8,73.26 L80.05,74.31 L80.3,75.37 L80.55,76.42 L80.8,77.47 L81.05,78.52 L81.3,79.57 L81.55,80.63 L81.8,81.68 L82.05,82.74 L82.3,83.8 L82.55,84.85 L82.8,85.91 L83.05,86.97 L83.3,88.03 L83.55,89.09 L83.8,90.15 L84.05,91.1 L84.3,91.57 L84.55,92.05 L84.8,92.53 L85.05,93.01 L85.3,93.49 L85.55,93.96 L85.8,94.44 L86.05,94.92 L86.3,95.4 L86.55,95.87 L86.8,96.35 L87.05,96.83 L87.3,97.31 L87.55,97.69 L87.8,97.99 L88.05,98.3 L88.3,98.61 L88.55,99.11 L88.8,99.76 L89.05,100.39 L89.3,101.01 L89.55,101.64 L89.8,102.24 L90.05,102.84 L90.3,103.44 L90.55,104.02 L90.8,104.59 L91.05,105.16 L91.3,105.71 L91.55,106.26 L91.8,106.81 L92.05,107.33 L92.3,107.86 L92.55,108.38 L92.8,108.88 L93.05,109.38 L93.3,109.88 L93.55,110.36 L93.8,110.83 L94.05,111.3 L94.3,111.76 L94.55,112.21 L94.8,112.66 L95.05,113.09 L95.3,113.52 L95.55,113.95 L95.8,114.36 L96.05,114.77 L96.3,115.18 L96.55,115.57 L96.8,115.95 L97.05,116.34 L97.3,116.71 L97.55,117.08 L97.8,117.44 L98.05,117.79 L98.3,118.14 L98.55,118.49 L98.8,118.82 L99.05,119.15 L99.3,119.48 L99.55,119.79 L99.8,120.1 L100.05,120.41 L100.3,120.71 L100.55,121 L100.8,121.3 L101.05,121.58 L101.3,121.86 L101.55,122.13 L101.8,122.4 L102.05,122.66 L102.3,122.92 L102.55,123.17 L102.8,123.42 L103.05,123.67 L103.3,123.9 L103.55,124.14 L103.8,124.37 L104.05,124.59 L104.3,124.81 L104.55,125.03 L104.8,125.24 L105.05,125.45 L105.3,125.65 L105.55,125.85 L105.8,126.04 L106.05,126.24 L106.3,126.42 L106.55,126.61 L106.8,126.79 L107.05,126.96 L107.3,127.14 L107.55,127.31 L107.8,127.47 L108.05,127.63 L108.3,127.79 L108.55,128.15 L108.8,128.9 L109.05,129.53 L109.3,129.69 L109.55,129.86 L109.8,130.02 L110.05,130.18 L110.3,130.34 L110.55,130.51 L110.8,130.67 L111.05,130.82 L111.3,130.95 L111.55,131.07 L111.8,131.19 L112.05,131.31 L112.3,131.44 L112.55,131.56 L112.8,131.68 L113.05,131.8 L113.3,131.93 L113.55,132.05 L113.8,132.17 L114.05,132.29 L114.3,132.41 L114.55,132.54 L114.8,132.66 L115.05,132.78 L115.3,132.9 L115.55,133.03 L115.8,133.04 L116.05,132.9 L116.3,132.76 L116.55,132.61 L116.8,132.47 L117.05,132.33 L117.3,132.19 L117.55,132.04 L117.8,131.9 L118.05,131.94 L118.3,132 L118.55,132.06 L118.8,132.13 L119.05,132.19 L119.3,132.25 L119.55,132.31 L119.8,132.37 L120.05,132.42 L120.3,132.48 L120.55,132.53 L120.8,132.58 L121.05,132.64 L121.3,132.68 L121.55,132.73 L121.8,132.78 L122.05,132.83 L122.3,132.87 L122.55,132.92 L122.8,132.96 L123.05,133 L123.3,133.05 L123.55,133.09 L123.8,133.12 L124.05,133.16 L124.3,133.2 L124.55,133.24 L124.8,133.27 L125.05,133.31 L125.3,133.34 L125.55,133.38 L125.8,133.41 L126.05,133.44 L126.3,133.47 L126.55,133.5 L126.8,133.53 L127.05,133.56 L127.3,133.59 L127.55,133.72 L127.8,133.9 L128.05,134.09 L128.3,134.2 L128.55,134.2 L128.8,134.21 L129.05,134.21 L129.3,134.21 L129.55,134.21 L129.8,134.21 L130.05,134.22 L130.3,134.22 L130.55,134.22 L130.8,134.22 L131.05,134.22 L131.3,134.23 L131.55,134.23 L131.8,134.23 L132.05,134.23 L132.3,134.23 L132.55,134.24 L132.8,134.24 L133.05,134.24 L133.3,134.24 L133.55,134.25 L133.8,134.25 L134.05,134.25 L134.3,134.25 L134.55,134.25 L134.8,134.26 L135.05,134.26 L135.3,134.26 L135.55,134.26 L135.8,134.26 L136.05,134.27 L136.3,134.27 L136.55,134.27 L136.8,134.28 L137.05,134.29 L137.3,134.3 L137.55,134.31 L137.8,134.32 L138.05,134.33 L138.3,134.34 L138.55,134.35 L138.8,134.36 L139.05,134.37 L139.3,134.38 L139.55,134.39 L139.8,134.39 L140.05,134.4 L140.3,134.41 L140.55,134.42 L140.8,134.42 L141.05,134.43 L141.3,134.44 L141.55,134.44 L141.8,134.45 L142.05,134.46 L142.3,134.46 L142.55,134.47 L142.8,134.48 L143.05,134.48 L143.3,134.49 L143.55,134.49 L143.8,134.5 L144.05,134.5 L144.3,134.51 L144.55,134.51 L144.8,134.52 L145.05,134.52 L145.3,134.53 L145.55,134.53 L145.8,134.54 L146.05,134.54 L146.3,134.55 L146.55,134.55 L146.8,134.55 L147.05,134.56 L147.3,134.56 L147.55,134.57 L147.8,134.57 L148.05,134.57 L148.3,134.58 L148.55,134.58 L148.8,134.58 L149.05,134.59 L149.3,134.59 L149.55,134.59 L149.8,134.59 L150.05,134.6 L150.3,134.6 L150.55,134.6 L150.8,134.61 L151.05,134.61 L151.3,134.61 L151.55,134.61 L151.8,134.61 L152.05,134.62 L152.3,134.62 L152.55,134.62 L152.8,134.62 L153.05,134.63 L153.3,134.63 L153.55,134.63 L153.8,134.63 L154.05,134.63 L154.3,134.63 L154.55,134.64 L154.8,134.64 L155.05,134.64 L155.3,134.64 L155.55,134.64 L155.8,134.64 L156.05,134.65 L156.3,134.65 L156.55,134.65 L156.8,134.65 L157.05,134.65 L157.3,134.65 L157.55,134.65 L157.8,134.66 L158.05,134.66 L158.3,134.66 L158.55,134.66 L158.8,134.66 L159.05,134.66 L159.3,134.66 L159.55,134.66 L159.8,134.66 L160.05,134.66 L160.3,134.66 L160.3,134.7 Z" fill="#ebe8da" stroke="none"/>
<path d="M40.8,134.6C40.97,133.25 41.37,130.43 41.8,126.5C42.23,122.57 42.85,116.17 43.4,111C43.95,105.83 44.48,100.67 45.1,95.5C45.72,90.33 46.57,84.25 47.1,80C47.63,75.75 47.93,73.33 48.3,70C48.67,66.67 48.97,63 49.3,60C49.63,57 49.88,54 50.3,52C50.72,50 51.32,49 51.8,48C52.28,47 52.78,46.45 53.2,46C53.62,45.55 53.78,44.97 54.3,45.3C54.82,45.63 55.63,47.2 56.3,48C56.97,48.8 57.62,50.55 58.3,50.1C58.98,49.65 59.6,47.12 60.4,45.3C61.2,43.48 62.32,39.65 63.1,39.2C63.88,38.75 64.43,41.23 65.1,42.6C65.77,43.97 66.2,46.05 67.1,47.4C68,48.75 69.37,49.92 70.5,50.7C71.63,51.48 73,50.97 73.9,52.1C74.8,53.23 75.33,55.47 75.9,57.5C76.47,59.53 76.7,61.88 77.3,64.3C77.9,66.72 78.73,69.03 79.5,72C80.27,74.97 81.15,78.93 81.9,82.1C82.65,85.27 83.08,88.43 84,91C84.92,93.57 86.27,95.72 87.4,97.5C88.53,99.28 89.65,100.92 90.8,101.7C91.95,102.48 93.35,101.25 94.3,102.2C95.25,103.15 95.75,105.4 96.5,107.4C97.25,109.4 97.93,111.73 98.8,114.2C99.67,116.67 100.85,121.07 101.7,122.2C102.55,123.33 103.15,121.38 103.9,121C104.65,120.62 105.43,119.7 106.2,119.9C106.97,120.1 107.65,121.07 108.5,122.2C109.35,123.33 110.45,126.33 111.3,126.7C112.15,127.07 113.05,124.95 113.6,124.4C114.15,123.85 114.07,122.8 114.6,123.4C115.13,124 115.9,126.73 116.8,128C117.7,129.27 117.8,130.08 120,131C122.2,131.92 125.83,132.95 130,133.5C134.17,134.05 140,134.12 145,134.3C150,134.48 157.5,134.55 160,134.6" fill="none" stroke="#22dd22" stroke-width="1.05" stroke-linejoin="round"/>
<path d="M40.4,134.6C40.53,133.25 40.88,130.43 41.2,126.5C41.52,122.57 41.92,116.17 42.3,111C42.68,105.83 43.03,100.67 43.5,95.5C43.97,90.33 44.67,84.92 45.1,80C45.53,75.08 45.72,69.83 46.1,66C46.48,62.17 46.98,59.33 47.4,57C47.82,54.67 48.22,53.35 48.6,52C48.98,50.65 49.25,50.22 49.7,48.9C50.15,47.58 50.82,45.18 51.3,44.1C51.78,43.02 52.18,42.4 52.6,42.4C53.02,42.4 53.4,43.42 53.8,44.1C54.2,44.78 54.6,45.7 55,46.5C55.4,47.3 55.65,48.28 56.2,48.9C56.75,49.52 57.55,50.73 58.3,50.2C59.05,49.67 60.03,46.38 60.7,45.7C61.37,45.02 61.83,45.42 62.3,46.1C62.77,46.78 63.08,48.25 63.5,49.8C63.92,51.35 64.38,53.98 64.8,55.4C65.22,56.82 65.53,57.95 66,58.3C66.47,58.65 67.13,57.43 67.6,57.5C68.07,57.57 68.33,57.67 68.8,58.7C69.27,59.73 69.78,61.82 70.4,63.7C71.02,65.58 71.97,68.57 72.5,70C73.03,71.43 73.18,72.3 73.6,72.3C74.02,72.3 74.52,70.88 75,70C75.48,69.12 76,67.75 76.5,67C77,66.25 77.42,65.67 78,65.5C78.58,65.33 79.33,65.08 80,66C80.67,66.92 81.33,68.83 82,71C82.67,73.17 83.1,75.4 84,79C84.9,82.6 86.27,89.38 87.4,92.6C88.53,95.82 89.85,96.4 90.8,98.3C91.75,100.2 92.33,102.12 93.1,104C93.87,105.88 94.73,108.38 95.4,109.6C96.07,110.82 96.35,110.53 97.1,111.3C97.85,112.07 98.85,113.33 99.9,114.2C100.95,115.07 102.35,115.55 103.4,116.5C104.45,117.45 105.25,118.58 106.2,119.9C107.15,121.22 107.87,122.88 109.1,124.4C110.33,125.92 112.32,127.83 113.6,129C114.88,130.17 115.4,130.9 116.8,131.4C118.2,131.9 119.92,132 122,132C124.08,132 127.13,131.23 129.3,131.4C131.47,131.57 133.28,132.62 135,133C136.72,133.38 137.1,133.48 139.6,133.7C142.1,133.92 146.6,134.15 150,134.3C153.4,134.45 158.33,134.55 160,134.6" fill="none" stroke="#1a1acc" stroke-width="1.05" stroke-linejoin="round"/>
<path d="M40.4,134.6C40.52,133.25 40.78,130.43 41.1,126.5C41.42,122.57 41.92,116.17 42.3,111C42.68,105.83 42.95,100.67 43.4,95.5C43.85,90.33 44.57,84.95 45,80C45.43,75.05 45.62,69.75 46,65.8C46.38,61.85 46.88,58.83 47.3,56.3C47.72,53.77 48.13,51.62 48.5,50.6C48.87,49.58 49.08,50.07 49.5,50.2C49.92,50.33 50.48,51.27 51,51.4C51.52,51.53 51.93,51.13 52.6,51C53.27,50.87 54.33,50.73 55,50.6C55.67,50.47 56.05,50.27 56.6,50.2C57.15,50.13 57.82,50.42 58.3,50.2C58.78,49.98 59.1,49.52 59.5,48.9C59.9,48.28 60.23,46.97 60.7,46.5C61.17,46.03 61.83,45.97 62.3,46.1C62.77,46.23 63.08,46.55 63.5,47.3C63.92,48.05 64.32,49.65 64.8,50.6C65.28,51.55 65.87,52.52 66.4,53C66.93,53.48 67.52,52.62 68,53.5C68.48,54.38 68.73,56.25 69.3,58.3C69.87,60.35 70.7,63.15 71.4,65.8C72.1,68.45 72.73,73.28 73.5,74.2C74.27,75.12 75.23,72.87 76,71.3C76.77,69.73 77.38,65.8 78.1,64.8C78.82,63.8 79.67,64.4 80.3,65.3C80.93,66.2 81.35,68.3 81.9,70.2C82.45,72.1 82.97,74.07 83.6,76.7C84.23,79.33 84.87,83.17 85.7,86C86.53,88.83 87.55,91.47 88.6,93.7C89.65,95.93 90.87,97.32 92,99.4C93.13,101.48 94.45,104.5 95.4,106.2C96.35,107.9 96.95,109.32 97.7,109.6C98.45,109.88 99.15,108.08 99.9,107.9C100.65,107.72 101.53,107.83 102.2,108.5C102.87,109.17 103.33,110.38 103.9,111.9C104.47,113.42 105.03,115.52 105.6,117.6C106.17,119.68 106.73,122.42 107.3,124.4C107.87,126.38 108.38,128.43 109,129.5C109.62,130.57 109.88,130.2 111,130.8C112.12,131.4 114.45,132.98 115.7,133.1C116.95,133.22 117.55,132.17 118.5,131.5C119.45,130.83 120.17,128.93 121.4,129.1C122.63,129.27 124.77,131.65 125.9,132.5C127.03,133.35 125.85,133.9 128.2,134.2C130.55,134.5 136.37,134.25 140,134.3C143.63,134.35 146.67,134.45 150,134.5C153.33,134.55 158.33,134.58 160,134.6" fill="none" stroke="#dd2222" stroke-width="1.05" stroke-linejoin="round"/>
<path d="M40.3,134.7 L41.05,134.62 L41.79,134.11 L42.54,132.91 L43.29,130.86 L44.04,127.93 L44.78,124.12 L45.53,119.51 L46.28,114.21 L47.03,108.32 L47.77,101.99 L48.52,95.35 L49.27,88.52 L50.02,81.63 L50.77,74.79 L51.51,68.09 L52.26,61.62 L53.01,55.47 L53.75,49.69 L54.5,44.32 L55.25,39.42 L56,34.99 L56.74,31.08 L57.49,27.67 L58.24,24.78 L58.99,22.39 L59.73,20.51 L60.48,19.11 L61.23,18.17 L61.98,17.67 L62.72,17.59 L63.47,17.9 L64.22,18.57 L64.97,19.58 L65.72,20.89 L66.46,22.47 L67.21,24.31 L67.96,26.37 L68.7,28.62 L69.45,31.04 L70.2,33.61 L70.95,36.29 L71.69,39.08 L72.44,41.95 L73.19,44.87 L73.94,47.84 L74.69,50.83 L75.43,53.84 L76.18,56.84 L76.93,59.83 L77.67,62.8 L78.42,65.73 L79.17,68.61 L79.92,71.45 L80.66,74.23 L81.41,76.95 L82.16,79.6 L82.91,82.17 L83.66,84.68 L84.4,87.1 L85.15,89.45 L85.9,91.72 L86.64,93.91 L87.39,96.01 L88.14,98.04 L88.89,99.98 L89.63,101.85 L90.38,103.63 L91.13,105.34 L91.88,106.98 L92.62,108.53 L93.37,110.02 L94.12,111.43 L94.87,112.78 L95.61,114.06 L96.36,115.28 L97.11,116.43 L97.86,117.53 L98.6,118.56 L99.35,119.55 L100.1,120.48 L100.85,121.35 L101.59,122.18 L102.34,122.97 L103.09,123.71 L103.84,124.4 L104.58,125.06 L105.33,125.68 L106.08,126.26 L106.83,126.81 L107.58,127.32 L108.32,127.81 L109.07,128.26 L109.82,128.69 L110.56,129.09 L111.31,129.47 L112.06,129.82 L112.81,130.15 L113.55,130.46 L114.3,130.75 L115.05,131.02 L115.8,131.27 L116.55,131.51 L117.29,131.73 L118.04,131.93 L118.79,132.13 L119.53,132.31 L120.28,132.47 L121.03,132.63 L121.78,132.78 L122.52,132.91 L123.27,133.04 L124.02,133.16 L124.77,133.27 L125.52,133.37 L126.26,133.47 L127.01,133.56 L127.76,133.64 L128.5,133.72 L129.25,133.79 L130,133.86 L130.75,133.92 L131.5,133.98 L132.24,134.03 L132.99,134.08 L133.74,134.12 L134.49,134.17 L135.23,134.21 L135.98,134.24 L136.73,134.28 L137.47,134.31 L138.22,134.34 L138.97,134.37 L139.72,134.39 L140.47,134.41 L141.21,134.44 L141.96,134.46 L142.71,134.47 L143.45,134.49 L144.2,134.51 L144.95,134.52 L145.7,134.54 L146.44,134.55 L147.19,134.56 L147.94,134.57 L148.69,134.58 L149.44,134.59 L150.18,134.6 L150.93,134.61 L151.68,134.61 L152.43,134.62 L153.17,134.63 L153.92,134.63 L154.67,134.64 L155.41,134.64 L156.16,134.65 L156.91,134.65 L157.66,134.65 L158.41,134.66 L159.15,134.66 L159.9,134.66" fill="none" stroke="#22dd22" stroke-width="1.05"/>
<rect x="37.5" y="1.5" width="123.9" height="135.8" fill="none" stroke="#000" stroke-width="1.25"/>
<line x1="37.5" y1="134.7" x2="40.7" y2="134.7" stroke="#111" stroke-width="1"/>
<line x1="37.5" y1="4" x2="40.7" y2="4" stroke="#111" stroke-width="1"/>
<line x1="40.3" y1="137.3" x2="40.3" y2="134.3" stroke="#111" stroke-width="1"/>
<line x1="99.5" y1="137.3" x2="99.5" y2="134.3" stroke="#111" stroke-width="1"/>
<line x1="158.7" y1="137.3" x2="158.7" y2="134.3" stroke="#111" stroke-width="1"/>
<text x="33.5" y="8.9" font-size="13" text-anchor="end" fill="#000" stroke="#000" stroke-width="0.2" style="">1</text>
<text x="34.4" y="139.2" font-size="13" text-anchor="end" fill="#000" stroke="#000" stroke-width="0.2" style="">0</text>
<text x="40.3" y="153.4" font-size="13" text-anchor="middle" fill="#000" stroke="#000" stroke-width="0.2" style="">0</text>
<text x="99.5" y="153.4" font-size="13" text-anchor="middle" fill="#000" stroke="#000" stroke-width="0.2" style="">2</text>
<text x="158.7" y="153.4" font-size="13" text-anchor="middle" fill="#000" stroke="#000" stroke-width="0.2" style="">4</text>
<text transform="translate(98.5,177.3) skewX(-10)" font-size="13.5" text-anchor="middle" fill="#000" stroke="#000" stroke-width="0.2" font-style="italic">&#958;</text>
<text x="112.1" y="55.8" font-size="13" fill="#000" stroke="#000" stroke-width="0.2">&#916;=10<tspan font-size="9" dy="-5.6">0</tspan></text>
<path d="M190.5,134.6C190.68,133.17 191.15,130.1 191.6,126C192.05,121.9 192.68,116 193.2,110C193.72,104 194.22,96.67 194.7,90C195.18,83.33 195.58,75.85 196.1,70C196.62,64.15 197.35,58.13 197.8,54.9C198.25,51.67 198.35,52.22 198.8,50.6C199.25,48.98 199.95,46.55 200.5,45.2C201.05,43.85 201.57,42.68 202.1,42.5C202.63,42.32 203.17,43.3 203.7,44.1C204.23,44.9 204.75,46.4 205.3,47.3C205.85,48.2 206.45,49.32 207,49.5C207.55,49.68 208.07,49.48 208.6,48.4C209.13,47.32 209.67,43.98 210.2,43C210.73,42.02 211.25,41.95 211.8,42.5C212.35,43.05 213.03,44.58 213.5,46.3C213.97,48.02 214.15,51 214.6,52.8C215.05,54.6 215.67,56.02 216.2,57.1C216.73,58.18 217.27,59.08 217.8,59.3C218.33,59.52 218.87,57.78 219.4,58.4C219.93,59.02 220.47,61.05 221,63C221.53,64.95 222.07,68.02 222.6,70.1C223.13,72.18 223.75,74.33 224.2,75.5C224.65,76.67 224.85,77.38 225.3,77.1C225.75,76.82 226.35,75.25 226.9,73.8C227.45,72.35 227.97,69.12 228.6,68.4C229.23,67.68 230.08,68.23 230.7,69.5C231.32,70.77 231.75,73.83 232.3,76C232.85,78.17 233.45,80.5 234,82.5C234.55,84.5 234.97,86.07 235.6,88C236.23,89.93 237.08,92 237.8,94.1C238.52,96.2 239.18,98.62 239.9,100.6C240.62,102.58 241.2,104.55 242.1,106C243,107.45 244.22,108.67 245.3,109.3C246.38,109.93 247.68,109.45 248.6,109.8C249.52,110.15 250.08,110.4 250.8,111.4C251.52,112.4 252.1,114.45 252.9,115.8C253.7,117.15 254.8,118.05 255.6,119.5C256.4,120.95 256.92,123.13 257.7,124.5C258.48,125.87 259.22,126.73 260.3,127.7C261.38,128.67 262.68,129.75 264.2,130.3C265.72,130.85 267.47,130.78 269.4,131C271.33,131.22 274.3,131.6 275.8,131.6C277.3,131.6 277.32,130.72 278.4,131C279.48,131.28 280.58,132.88 282.3,133.3C284.02,133.72 287.2,133.42 288.7,133.5C290.2,133.58 290.22,133.62 291.3,133.8C292.38,133.98 292.08,134.47 295.2,134.6C298.32,134.73 307.53,134.6 310,134.6 L310,134.7 L190.5,134.7 Z" fill="#e6e4f5" stroke="none"/>
<path d="M190.5,134.6C190.67,133.17 191.08,130.1 191.5,126C191.92,121.9 192.5,116 193,110C193.5,104 193.98,96.67 194.5,90C195.02,83.33 195.65,76.2 196.1,70C196.55,63.8 196.83,56.12 197.2,52.8C197.57,49.48 197.93,50.55 198.3,50.1C198.67,49.65 199.03,49.65 199.4,50.1C199.77,50.55 200.05,52 200.5,52.8C200.95,53.6 201.47,54.27 202.1,54.9C202.73,55.53 203.48,56.42 204.3,56.6C205.12,56.78 206.2,56.92 207,56C207.8,55.08 208.47,52.55 209.1,51.1C209.73,49.65 210.25,47.83 210.8,47.3C211.35,46.77 211.87,47.53 212.4,47.9C212.93,48.27 213.47,49.05 214,49.5C214.53,49.95 215.05,49.97 215.6,50.6C216.15,51.23 216.67,52.4 217.3,53.3C217.93,54.2 218.88,54.75 219.4,56C219.92,57.25 219.87,58.73 220.4,60.8C220.93,62.87 221.87,66.4 222.6,68.4C223.33,70.4 224.08,72.62 224.8,72.8C225.52,72.98 226.27,70.58 226.9,69.5C227.53,68.42 228.05,66.48 228.6,66.3C229.15,66.12 229.67,66.78 230.2,68.4C230.73,70.02 231.17,74 231.8,76C232.43,78 233.18,78.83 234,80.4C234.82,81.97 235.9,83.3 236.7,85.4C237.5,87.5 238.08,90.47 238.8,93C239.52,95.53 240.27,98.25 241,100.6C241.73,102.95 242.48,105.3 243.2,107.1C243.92,108.9 244.58,110.32 245.3,111.4C246.02,112.48 246.77,113.95 247.5,113.6C248.23,113.25 249.07,110.02 249.7,109.3C250.33,108.58 250.67,108.58 251.3,109.3C251.93,110.02 252.85,111.92 253.5,113.6C254.15,115.28 254.5,117.8 255.2,119.4C255.9,121 256.63,121.17 257.7,123.2C258.77,125.23 260.3,130.42 261.6,131.6C262.9,132.78 264.2,130.52 265.5,130.3C266.8,130.08 267.9,129.87 269.4,130.3C270.9,130.73 272.78,132.25 274.5,132.9C276.22,133.55 277.77,134.1 279.7,134.2C281.63,134.3 284.38,133.57 286.1,133.5C287.82,133.43 288.7,133.62 290,133.8C291.3,133.98 290.57,134.47 293.9,134.6C297.23,134.73 307.32,134.6 310,134.6 L310,134.7 L190.5,134.7 Z" fill="#f5e3e3" stroke="none"/>
<path d="M190.4,134.7 L190.4,134.7 L190.65,134.67 L190.9,134.65 L191.15,134.62 L191.4,134.45 L191.65,134.28 L191.9,134.1 L192.15,133.7 L192.4,133.3 L192.65,132.89 L192.9,132.2 L193.15,131.52 L193.4,130.82 L193.65,129.84 L193.9,128.86 L194.15,127.86 L194.4,126.59 L194.65,125.32 L194.9,124.02 L195.15,122.48 L195.4,120.94 L195.65,119.38 L195.9,117.61 L196.15,115.84 L196.4,114.05 L196.65,112.08 L196.9,110.11 L197.15,108.13 L197.4,106.02 L197.65,103.9 L197.9,101.77 L198.15,99.55 L198.4,97.33 L198.65,95.1 L198.9,92.82 L199.15,90.53 L199.4,88.25 L199.65,85.94 L199.9,83.64 L200.15,81.33 L200.4,79.04 L200.65,76.75 L200.9,74.47 L201.15,72.23 L201.4,69.99 L201.65,67.77 L201.9,65.6 L202.15,63.44 L202.4,61.3 L202.65,59.24 L202.9,57.18 L203.15,55.71 L203.4,55.9 L203.65,56.1 L203.9,56.29 L204.15,56.48 L204.4,56.58 L204.65,56.52 L204.9,56.47 L205.15,56.41 L205.4,56.36 L205.65,56.3 L205.9,56.24 L206.15,56.19 L206.4,56.13 L206.65,56.08 L206.9,56.02 L207.15,55.65 L207.4,55.07 L207.65,54.48 L207.9,53.9 L208.15,53.32 L208.4,52.73 L208.65,52.15 L208.9,51.57 L209.15,50.99 L209.4,50.75 L209.65,51.3 L209.9,51.84 L210.15,52.39 L210.4,52.93 L210.65,53.47 L210.9,53.85 L211.15,53.98 L211.4,54.11 L211.65,54.25 L211.9,54.38 L212.15,54.51 L212.4,54.64 L212.65,54.77 L212.9,54.9 L213.15,54.77 L213.4,54.64 L213.65,54.51 L213.9,54.38 L214.15,54.25 L214.4,54.11 L214.65,53.98 L214.9,53.85 L215.15,54.28 L215.4,54.95 L215.65,55.62 L215.9,56.29 L216.15,56.97 L216.4,57.38 L216.65,57.72 L216.9,58.06 L217.15,58.41 L217.4,58.75 L217.65,59.09 L217.9,59.24 L218.15,59.1 L218.4,58.96 L218.65,58.82 L218.9,58.68 L219.15,58.54 L219.4,58.4 L219.65,59.12 L219.9,59.84 L220.15,60.56 L220.4,61.28 L220.65,61.99 L220.9,62.71 L221.15,63.67 L221.4,64.78 L221.65,65.88 L221.9,66.99 L222.15,68.1 L222.4,69.21 L222.65,70.27 L222.9,71.11 L223.15,71.96 L223.4,72.8 L223.65,73.64 L223.9,74.49 L224.15,75.33 L224.4,75.79 L224.65,76.15 L224.9,76.52 L225.15,76.88 L225.4,76.89 L225.65,76.38 L225.9,75.86 L226.15,75.35 L226.4,74.83 L226.65,74.32 L226.9,73.8 L227.15,73.01 L227.4,72.21 L227.65,71.42 L227.9,70.62 L228.15,70.21 L228.4,71.4 L228.65,72.59 L228.9,73.78 L229.15,74.96 L229.4,76.15 L229.65,77.32 L229.9,78.44 L230.15,79.55 L230.4,80.66 L230.65,81.78 L230.9,82.82 L231.15,83.84 L231.4,84.86 L231.65,85.89 L231.9,86.97 L232.15,88.16 L232.4,89.35 L232.65,90.54 L232.9,91.72 L233.15,92.91 L233.4,94.1 L233.65,94.1 L233.9,94.1 L234.15,94.1 L234.4,94.1 L234.65,94.1 L234.9,94.1 L235.15,94.1 L235.4,94.1 L235.65,94.17 L235.9,94.54 L236.15,94.9 L236.4,95.26 L236.65,95.63 L236.9,95.99 L237.15,96.35 L237.4,96.72 L237.65,97.08 L237.9,97.51 L238.15,98.03 L238.4,98.56 L238.65,99.11 L238.9,99.76 L239.15,100.39 L239.4,101.01 L239.65,101.64 L239.9,102.24 L240.15,102.84 L240.4,103.44 L240.65,104.02 L240.9,104.59 L241.15,105.16 L241.4,105.71 L241.65,106.26 L241.9,106.81 L242.15,107.33 L242.4,107.86 L242.65,108.38 L242.9,108.88 L243.15,109.38 L243.4,109.88 L243.65,110.35 L243.9,110.83 L244.15,111.3 L244.4,111.76 L244.65,112.21 L244.9,112.66 L245.15,113.09 L245.4,113.52 L245.65,113.95 L245.9,114.36 L246.15,114.77 L246.4,115.18 L246.65,115.57 L246.9,115.95 L247.15,116.34 L247.4,116.71 L247.65,117.08 L247.9,117.44 L248.15,117.79 L248.4,118.14 L248.65,118.49 L248.9,118.82 L249.15,119.15 L249.4,119.48 L249.65,119.79 L249.9,120.1 L250.15,120.42 L250.4,120.71 L250.65,121.01 L250.9,121.3 L251.15,121.58 L251.4,121.86 L251.65,122.14 L251.9,122.4 L252.15,122.66 L252.4,122.92 L252.65,123.17 L252.9,123.42 L253.15,123.67 L253.4,123.9 L253.65,124.14 L253.9,124.37 L254.15,124.59 L254.4,124.81 L254.65,125.03 L254.9,125.24 L255.15,125.45 L255.4,125.65 L255.65,125.85 L255.9,126.04 L256.15,126.24 L256.4,126.42 L256.65,126.61 L256.9,126.79 L257.15,126.96 L257.4,127.14 L257.65,127.31 L257.9,127.47 L258.15,127.63 L258.4,127.79 L258.65,127.95 L258.9,128.1 L259.15,128.25 L259.4,128.39 L259.65,128.54 L259.9,128.68 L260.15,128.81 L260.4,129.02 L260.65,129.55 L260.9,130.09 L261.15,130.63 L261.4,131.17 L261.65,131.58 L261.9,131.5 L262.15,131.42 L262.4,131.33 L262.65,131.25 L262.9,131.17 L263.15,131.08 L263.4,131 L263.65,130.92 L263.9,130.83 L264.15,130.75 L264.4,130.74 L264.65,130.83 L264.9,130.93 L265.15,131.01 L265.4,131.1 L265.65,131.19 L265.9,131.27 L266.15,131.35 L266.4,131.43 L266.65,131.51 L266.9,131.58 L267.15,131.66 L267.4,131.73 L267.65,131.8 L267.9,131.87 L268.15,131.94 L268.4,132 L268.65,132.07 L268.9,132.13 L269.15,132.19 L269.4,132.25 L269.65,132.31 L269.9,132.37 L270.15,132.42 L270.4,132.48 L270.65,132.53 L270.9,132.58 L271.15,132.63 L271.4,132.68 L271.65,132.73 L271.9,132.78 L272.15,132.83 L272.4,132.87 L272.65,132.92 L272.9,132.96 L273.15,133 L273.4,133.05 L273.65,133.09 L273.9,133.13 L274.15,133.16 L274.4,133.2 L274.65,133.24 L274.9,133.27 L275.15,133.31 L275.4,133.34 L275.65,133.38 L275.9,133.41 L276.15,133.44 L276.4,133.47 L276.65,133.5 L276.9,133.53 L277.15,133.56 L277.4,133.62 L277.65,133.69 L277.9,133.75 L278.15,133.81 L278.4,133.88 L278.65,133.94 L278.9,134 L279.15,134.06 L279.4,134.12 L279.65,134.19 L279.9,134.18 L280.15,134.15 L280.4,134.12 L280.65,134.1 L280.9,134.07 L281.15,134.04 L281.4,134.02 L281.65,134.07 L281.9,134.12 L282.15,134.17 L282.4,134.21 L282.65,134.22 L282.9,134.24 L283.15,134.25 L283.4,134.27 L283.65,134.28 L283.9,134.3 L284.15,134.32 L284.4,134.33 L284.65,134.35 L284.9,134.36 L285.15,134.38 L285.4,134.39 L285.65,134.41 L285.9,134.42 L286.15,134.44 L286.4,134.46 L286.65,134.47 L286.9,134.49 L287.15,134.5 L287.4,134.52 L287.65,134.53 L287.9,134.55 L288.15,134.57 L288.4,134.58 L288.65,134.6 L288.9,134.6 L289.15,134.6 L289.4,134.6 L289.65,134.6 L289.9,134.6 L290.15,134.6 L290.4,134.6 L290.65,134.6 L290.9,134.6 L291.15,134.6 L291.4,134.6 L291.65,134.6 L291.9,134.6 L292.15,134.6 L292.4,134.6 L292.65,134.6 L292.9,134.6 L293.15,134.6 L293.4,134.6 L293.65,134.6 L293.9,134.6 L294.15,134.6 L294.4,134.6 L294.65,134.6 L294.9,134.6 L295.15,134.6 L295.4,134.6 L295.65,134.6 L295.9,134.6 L296.15,134.6 L296.4,134.6 L296.65,134.6 L296.9,134.6 L297.15,134.6 L297.4,134.6 L297.65,134.6 L297.9,134.6 L298.15,134.6 L298.4,134.6 L298.65,134.6 L298.9,134.6 L299.15,134.6 L299.4,134.6 L299.65,134.6 L299.9,134.6 L300.15,134.6 L300.4,134.6 L300.65,134.6 L300.9,134.61 L301.15,134.61 L301.4,134.61 L301.65,134.61 L301.9,134.61 L302.15,134.62 L302.4,134.62 L302.65,134.62 L302.9,134.62 L303.15,134.63 L303.4,134.63 L303.65,134.63 L303.9,134.63 L304.15,134.63 L304.4,134.63 L304.65,134.64 L304.9,134.64 L305.15,134.64 L305.4,134.64 L305.65,134.64 L305.9,134.64 L306.15,134.65 L306.4,134.65 L306.65,134.65 L306.9,134.65 L307.15,134.65 L307.4,134.65 L307.65,134.65 L307.9,134.66 L308.15,134.66 L308.4,134.66 L308.65,134.66 L308.9,134.66 L309.15,134.66 L309.4,134.66 L309.65,134.66 L309.9,134.66 L310.15,134.66 L310.4,134.66 L310.4,134.7 Z" fill="#ebe8da" stroke="none"/>
<path d="M190.5,134.6C190.65,133.33 191.02,130.77 191.4,127C191.78,123.23 192.32,118.17 192.8,112C193.28,105.83 193.83,97 194.3,90C194.77,83 195.12,74.93 195.6,70C196.08,65.07 196.67,63.45 197.2,60.4C197.73,57.35 198.17,54.05 198.8,51.7C199.43,49.35 200.37,48.28 201,46.3C201.63,44.32 202.15,41.17 202.6,39.8C203.05,38.43 203.25,37.75 203.7,38.1C204.15,38.45 204.75,40.72 205.3,41.9C205.85,43.08 206.37,43.83 207,45.2C207.63,46.57 208.47,48.67 209.1,50.1C209.73,51.53 210.17,53 210.8,53.8C211.43,54.6 212.2,54.9 212.9,54.9C213.6,54.9 214.27,54.25 215,53.8C215.73,53.35 216.57,52.57 217.3,52.2C218.03,51.83 218.68,51.58 219.4,51.6C220.12,51.62 220.98,52.12 221.6,52.3C222.22,52.48 222.57,52 223.1,52.7C223.63,53.4 224.25,54.78 224.8,56.5C225.35,58.22 225.87,60.83 226.4,63C226.93,65.17 227.47,67.15 228,69.5C228.53,71.85 229.15,75.02 229.6,77.1C230.05,79.18 230.33,80.43 230.7,82C231.07,83.57 231.35,84.48 231.8,86.5C232.25,88.52 232.77,92.83 233.4,94.1C234.03,95.37 234.87,93.57 235.6,94.1C236.33,94.63 237.08,96.03 237.8,97.3C238.52,98.57 239,100.62 239.9,101.7C240.8,102.78 242.3,103.08 243.2,103.8C244.1,104.52 244.67,104.9 245.3,106C245.93,107.1 246.45,108.95 247,110.4C247.55,111.85 247.97,113.45 248.6,114.7C249.23,115.95 249.92,117.17 250.8,117.9C251.68,118.63 252.95,118.75 253.9,119.1C254.85,119.45 255.43,119.2 256.5,120C257.57,120.8 258.8,122.72 260.3,123.9C261.8,125.08 263.98,126.52 265.5,127.1C267.02,127.68 268.12,126.75 269.4,127.4C270.68,128.05 272.13,130.08 273.2,131C274.27,131.92 274.28,132.37 275.8,132.9C277.32,133.43 280.15,133.92 282.3,134.2C284.45,134.48 284.08,134.53 288.7,134.6C293.32,134.67 306.45,134.6 310,134.6" fill="none" stroke="#22dd22" stroke-width="1.05" stroke-linejoin="round"/>
<path d="M190.5,134.6C190.67,133.17 191.08,130.1 191.5,126C191.92,121.9 192.5,116 193,110C193.5,104 193.98,96.67 194.5,90C195.02,83.33 195.65,76.2 196.1,70C196.55,63.8 196.83,56.12 197.2,52.8C197.57,49.48 197.93,50.55 198.3,50.1C198.67,49.65 199.03,49.65 199.4,50.1C199.77,50.55 200.05,52 200.5,52.8C200.95,53.6 201.47,54.27 202.1,54.9C202.73,55.53 203.48,56.42 204.3,56.6C205.12,56.78 206.2,56.92 207,56C207.8,55.08 208.47,52.55 209.1,51.1C209.73,49.65 210.25,47.83 210.8,47.3C211.35,46.77 211.87,47.53 212.4,47.9C212.93,48.27 213.47,49.05 214,49.5C214.53,49.95 215.05,49.97 215.6,50.6C216.15,51.23 216.67,52.4 217.3,53.3C217.93,54.2 218.88,54.75 219.4,56C219.92,57.25 219.87,58.73 220.4,60.8C220.93,62.87 221.87,66.4 222.6,68.4C223.33,70.4 224.08,72.62 224.8,72.8C225.52,72.98 226.27,70.58 226.9,69.5C227.53,68.42 228.05,66.48 228.6,66.3C229.15,66.12 229.67,66.78 230.2,68.4C230.73,70.02 231.17,74 231.8,76C232.43,78 233.18,78.83 234,80.4C234.82,81.97 235.9,83.3 236.7,85.4C237.5,87.5 238.08,90.47 238.8,93C239.52,95.53 240.27,98.25 241,100.6C241.73,102.95 242.48,105.3 243.2,107.1C243.92,108.9 244.58,110.32 245.3,111.4C246.02,112.48 246.77,113.95 247.5,113.6C248.23,113.25 249.07,110.02 249.7,109.3C250.33,108.58 250.67,108.58 251.3,109.3C251.93,110.02 252.85,111.92 253.5,113.6C254.15,115.28 254.5,117.8 255.2,119.4C255.9,121 256.63,121.17 257.7,123.2C258.77,125.23 260.3,130.42 261.6,131.6C262.9,132.78 264.2,130.52 265.5,130.3C266.8,130.08 267.9,129.87 269.4,130.3C270.9,130.73 272.78,132.25 274.5,132.9C276.22,133.55 277.77,134.1 279.7,134.2C281.63,134.3 284.38,133.57 286.1,133.5C287.82,133.43 288.7,133.62 290,133.8C291.3,133.98 290.57,134.47 293.9,134.6C297.23,134.73 307.32,134.6 310,134.6" fill="none" stroke="#dd2222" stroke-width="1.05" stroke-linejoin="round"/>
<path d="M190.5,134.6C190.68,133.17 191.15,130.1 191.6,126C192.05,121.9 192.68,116 193.2,110C193.72,104 194.22,96.67 194.7,90C195.18,83.33 195.58,75.85 196.1,70C196.62,64.15 197.35,58.13 197.8,54.9C198.25,51.67 198.35,52.22 198.8,50.6C199.25,48.98 199.95,46.55 200.5,45.2C201.05,43.85 201.57,42.68 202.1,42.5C202.63,42.32 203.17,43.3 203.7,44.1C204.23,44.9 204.75,46.4 205.3,47.3C205.85,48.2 206.45,49.32 207,49.5C207.55,49.68 208.07,49.48 208.6,48.4C209.13,47.32 209.67,43.98 210.2,43C210.73,42.02 211.25,41.95 211.8,42.5C212.35,43.05 213.03,44.58 213.5,46.3C213.97,48.02 214.15,51 214.6,52.8C215.05,54.6 215.67,56.02 216.2,57.1C216.73,58.18 217.27,59.08 217.8,59.3C218.33,59.52 218.87,57.78 219.4,58.4C219.93,59.02 220.47,61.05 221,63C221.53,64.95 222.07,68.02 222.6,70.1C223.13,72.18 223.75,74.33 224.2,75.5C224.65,76.67 224.85,77.38 225.3,77.1C225.75,76.82 226.35,75.25 226.9,73.8C227.45,72.35 227.97,69.12 228.6,68.4C229.23,67.68 230.08,68.23 230.7,69.5C231.32,70.77 231.75,73.83 232.3,76C232.85,78.17 233.45,80.5 234,82.5C234.55,84.5 234.97,86.07 235.6,88C236.23,89.93 237.08,92 237.8,94.1C238.52,96.2 239.18,98.62 239.9,100.6C240.62,102.58 241.2,104.55 242.1,106C243,107.45 244.22,108.67 245.3,109.3C246.38,109.93 247.68,109.45 248.6,109.8C249.52,110.15 250.08,110.4 250.8,111.4C251.52,112.4 252.1,114.45 252.9,115.8C253.7,117.15 254.8,118.05 255.6,119.5C256.4,120.95 256.92,123.13 257.7,124.5C258.48,125.87 259.22,126.73 260.3,127.7C261.38,128.67 262.68,129.75 264.2,130.3C265.72,130.85 267.47,130.78 269.4,131C271.33,131.22 274.3,131.6 275.8,131.6C277.3,131.6 277.32,130.72 278.4,131C279.48,131.28 280.58,132.88 282.3,133.3C284.02,133.72 287.2,133.42 288.7,133.5C290.2,133.58 290.22,133.62 291.3,133.8C292.38,133.98 292.08,134.47 295.2,134.6C298.32,134.73 307.53,134.6 310,134.6" fill="none" stroke="#1a1acc" stroke-width="1.05" stroke-linejoin="round"/>
<path d="M190.4,134.7 L191.15,134.62 L191.89,134.11 L192.64,132.91 L193.39,130.87 L194.13,127.94 L194.88,124.14 L195.63,119.54 L196.38,114.24 L197.12,108.37 L197.87,102.05 L198.62,95.41 L199.36,88.59 L200.11,81.71 L200.86,74.86 L201.6,68.17 L202.35,61.71 L203.1,55.56 L203.84,49.77 L204.59,44.4 L205.34,39.49 L206.08,35.07 L206.83,31.14 L207.58,27.73 L208.32,24.83 L209.07,22.44 L209.82,20.54 L210.57,19.13 L211.31,18.18 L212.06,17.68 L212.81,17.59 L213.55,17.89 L214.3,18.55 L215.05,19.54 L215.79,20.85 L216.54,22.42 L217.29,24.25 L218.03,26.3 L218.78,28.55 L219.53,30.96 L220.28,33.52 L221.02,36.2 L221.77,38.98 L222.52,41.84 L223.26,44.76 L224.01,47.73 L224.76,50.72 L225.5,53.72 L226.25,56.72 L227,59.71 L227.74,62.67 L228.49,65.6 L229.24,68.49 L229.98,71.33 L230.73,74.11 L231.48,76.82 L232.22,79.47 L232.97,82.05 L233.72,84.56 L234.47,86.99 L235.21,89.34 L235.96,91.61 L236.71,93.8 L237.45,95.9 L238.2,97.93 L238.95,99.88 L239.69,101.75 L240.44,103.54 L241.19,105.25 L241.93,106.88 L242.68,108.44 L243.43,109.93 L244.18,111.35 L244.92,112.7 L245.67,113.98 L246.42,115.2 L247.16,116.36 L247.91,117.46 L248.66,118.5 L249.4,119.48 L250.15,120.42 L250.9,121.3 L251.64,122.13 L252.39,122.91 L253.14,123.66 L253.88,124.36 L254.63,125.02 L255.38,125.64 L256.12,126.22 L256.87,126.77 L257.62,127.29 L258.37,127.77 L259.11,128.23 L259.86,128.66 L260.61,129.06 L261.35,129.44 L262.1,129.79 L262.85,130.12 L263.59,130.43 L264.34,130.72 L265.09,130.99 L265.83,131.25 L266.58,131.49 L267.33,131.71 L268.07,131.92 L268.82,132.11 L269.57,132.29 L270.32,132.46 L271.06,132.62 L271.81,132.76 L272.56,132.9 L273.3,133.03 L274.05,133.15 L274.8,133.26 L275.54,133.36 L276.29,133.46 L277.04,133.55 L277.78,133.63 L278.53,133.71 L279.28,133.78 L280.02,133.85 L280.77,133.91 L281.52,133.97 L282.27,134.02 L283.01,134.07 L283.76,134.12 L284.51,134.16 L285.25,134.2 L286,134.24 L286.75,134.27 L287.49,134.31 L288.24,134.34 L288.99,134.36 L289.73,134.39 L290.48,134.41 L291.23,134.43 L291.98,134.45 L292.72,134.47 L293.47,134.49 L294.22,134.51 L294.96,134.52 L295.71,134.53 L296.46,134.55 L297.2,134.56 L297.95,134.57 L298.7,134.58 L299.44,134.59 L300.19,134.6 L300.94,134.61 L301.68,134.61 L302.43,134.62 L303.18,134.63 L303.93,134.63 L304.67,134.64 L305.42,134.64 L306.17,134.65 L306.91,134.65 L307.66,134.65 L308.41,134.66 L309.15,134.66 L309.9,134.66" fill="none" stroke="#dd2222" stroke-width="1.05"/>
<rect x="187.6" y="1.5" width="123.8" height="135.8" fill="none" stroke="#000" stroke-width="1.25"/>
<line x1="187.6" y1="134.7" x2="190.8" y2="134.7" stroke="#111" stroke-width="1"/>
<line x1="187.6" y1="4" x2="190.8" y2="4" stroke="#111" stroke-width="1"/>
<line x1="190.4" y1="137.3" x2="190.4" y2="134.3" stroke="#111" stroke-width="1"/>
<line x1="249.6" y1="137.3" x2="249.6" y2="134.3" stroke="#111" stroke-width="1"/>
<line x1="308.8" y1="137.3" x2="308.8" y2="134.3" stroke="#111" stroke-width="1"/>
<text x="183.6" y="8.9" font-size="13" text-anchor="end" fill="#000" stroke="#000" stroke-width="0.2" style="">1</text>
<text x="184.5" y="139.2" font-size="13" text-anchor="end" fill="#000" stroke="#000" stroke-width="0.2" style="">0</text>
<text x="190.4" y="153.4" font-size="13" text-anchor="middle" fill="#000" stroke="#000" stroke-width="0.2" style="">0</text>
<text x="249.6" y="153.4" font-size="13" text-anchor="middle" fill="#000" stroke="#000" stroke-width="0.2" style="">2</text>
<text x="308.8" y="153.4" font-size="13" text-anchor="middle" fill="#000" stroke="#000" stroke-width="0.2" style="">4</text>
<text transform="translate(248.6,177.3) skewX(-10)" font-size="13.5" text-anchor="middle" fill="#000" stroke="#000" stroke-width="0.2" font-style="italic">&#958;</text>
<text x="262.2" y="55.8" font-size="13" fill="#000" stroke="#000" stroke-width="0.2">&#916;=10<tspan font-size="9" dy="-5.6">1</tspan></text>
<path d="M341.5,134.6C341.65,133 342.02,129.43 342.4,125C342.78,120.57 343.33,113.5 343.8,108C344.27,102.5 344.75,96.67 345.2,92C345.65,87.33 346.03,84.33 346.5,80C346.97,75.67 347.55,69.97 348,66C348.45,62.03 348.73,58.55 349.2,56.2C349.67,53.85 350.23,53.13 350.8,51.9C351.37,50.67 352.03,50.17 352.6,48.8C353.17,47.43 353.67,45.45 354.2,43.7C354.73,41.95 355.27,39.48 355.8,38.3C356.33,37.12 356.85,36.78 357.4,36.6C357.95,36.42 358.55,36.38 359.1,37.2C359.65,38.02 360.17,39.88 360.7,41.5C361.23,43.12 361.77,45.27 362.3,46.9C362.83,48.53 363.27,49.67 363.9,51.3C364.53,52.93 365.47,55.5 366.1,56.7C366.73,57.9 367.08,58.42 367.7,58.5C368.32,58.58 369.1,57.7 369.8,57.2C370.5,56.7 371.27,55.15 371.9,55.5C372.53,55.85 373.05,57.58 373.6,59.3C374.15,61.02 374.75,63.63 375.2,65.8C375.65,67.97 375.95,70.4 376.3,72.3C376.65,74.2 376.85,76.38 377.3,77.2C377.75,78.02 378.53,78.02 379,77.2C379.47,76.38 379.75,74.42 380.1,72.3C380.45,70.18 380.75,66.12 381.1,64.5C381.45,62.88 381.83,62.2 382.2,62.6C382.57,63 382.93,64.92 383.3,66.9C383.67,68.88 383.95,71.97 384.4,74.5C384.85,77.03 385.57,78.9 386,82.1C386.43,85.3 386.65,90.87 387,93.7C387.35,96.53 387.47,97.83 388.1,99.1C388.73,100.37 389.8,100.77 390.8,101.3C391.8,101.83 393.02,101.95 394.1,102.3C395.18,102.65 396.4,102.48 397.3,103.4C398.2,104.32 398.77,106.17 399.5,107.8C400.23,109.43 400.98,111.58 401.7,113.2C402.42,114.82 402.9,115.87 403.8,117.5C404.7,119.13 406.07,121.42 407.1,123C408.13,124.58 408.97,125.95 410,127C411.03,128.05 411.63,128.47 413.3,129.3C414.97,130.13 417.77,131.37 420,132C422.23,132.63 424.48,133.05 426.7,133.1C428.92,133.15 431.53,132.27 433.3,132.3C435.07,132.33 435.52,132.9 437.3,133.3C439.08,133.7 440.22,134.45 444,134.7C447.78,134.95 457.33,134.78 460,134.8 L460,134.7 L341.5,134.7 Z" fill="#e6e4f5" stroke="none"/>
<path d="M341.5,134.6C341.63,133 341.97,129.43 342.3,125C342.63,120.57 343.05,113.83 343.5,108C343.95,102.17 344.53,96.33 345,90C345.47,83.67 345.93,75.83 346.3,70C346.67,64.17 346.92,58.75 347.2,55C347.48,51.25 347.72,49.1 348,47.5C348.28,45.9 348.6,45.57 348.9,45.4C349.2,45.23 349.47,45.98 349.8,46.5C350.13,47.02 350.47,46.92 350.9,48.5C351.33,50.08 351.87,53.67 352.4,56C352.93,58.33 353.58,61.38 354.1,62.5C354.62,63.62 355,63.28 355.5,62.7C356,62.12 356.52,60.7 357.1,59C357.68,57.3 358.35,54.23 359,52.5C359.65,50.77 360.42,49.17 361,48.6C361.58,48.03 362.02,48.3 362.5,49.1C362.98,49.9 363.3,51.87 363.9,53.4C364.5,54.93 365.5,57.43 366.1,58.3C366.7,59.17 366.95,59.42 367.5,58.6C368.05,57.78 368.82,55.17 369.4,53.4C369.98,51.63 370.47,48.65 371,48C371.53,47.35 372.07,48.05 372.6,49.5C373.13,50.95 373.65,53.95 374.2,56.7C374.75,59.45 375.47,62.85 375.9,66C376.33,69.15 376.38,73.63 376.8,75.6C377.22,77.57 377.85,77.53 378.4,77.8C378.95,78.07 379.55,77.93 380.1,77.2C380.65,76.47 381.17,74.3 381.7,73.4C382.23,72.5 382.77,71.98 383.3,71.8C383.83,71.62 384.35,71.67 384.9,72.3C385.45,72.93 386.05,73.97 386.6,75.6C387.15,77.23 387.67,79.95 388.2,82.1C388.73,84.25 389.37,86.03 389.8,88.5C390.23,90.97 390.35,94.68 390.8,96.9C391.25,99.12 391.77,100.9 392.5,101.8C393.23,102.7 394.4,102.38 395.2,102.3C396,102.22 396.58,100.75 397.3,101.3C398.02,101.85 398.87,104.17 399.5,105.6C400.13,107.03 400.55,108.27 401.1,109.9C401.65,111.53 402.23,113.97 402.8,115.4C403.37,116.83 403.63,116.62 404.5,118.5C405.37,120.38 406.97,124.78 408,126.7C409.03,128.62 409.58,129.23 410.7,130C411.82,130.77 413.37,130.57 414.7,131.3C416.03,132.03 417.6,133.8 418.7,134.4C419.8,135 420.2,135.12 421.3,134.9C422.4,134.68 423.97,133.37 425.3,133.1C426.63,132.83 427.97,133 429.3,133.3C430.63,133.6 428.18,134.65 433.3,134.9C438.42,135.15 455.55,134.82 460,134.8 L460,134.7 L341.5,134.7 Z" fill="#f5e3e3" stroke="none"/>
<path d="M341.8,134.7 L341.8,134.7 L342.05,134.49 L342.3,134.28 L342.55,134.06 L342.8,133.38 L343.05,132.71 L343.3,132.01 L343.55,130.9 L343.8,129.79 L344.05,128.65 L344.3,127.18 L344.55,125.71 L344.8,124.21 L345.05,122.45 L345.3,120.69 L345.55,118.9 L345.8,116.93 L346.05,114.95 L346.3,112.95 L346.55,110.83 L346.8,108.7 L347.05,106.56 L347.3,104.34 L347.55,102.12 L347.8,99.89 L348.05,97.64 L348.3,95.38 L348.55,93.12 L348.8,90.86 L349.05,88.6 L349.3,86.36 L349.55,84.14 L349.8,81.92 L350.05,79.73 L350.3,77.58 L350.55,75.43 L350.8,73.32 L351.05,71.26 L351.3,69.21 L351.55,67.2 L351.8,65.26 L352.05,63.32 L352.3,61.44 L352.55,59.63 L352.8,57.82 L353.05,58.49 L353.3,59.44 L353.55,60.4 L353.8,61.35 L354.05,62.31 L354.3,62.53 L354.55,62.56 L354.8,62.6 L355.05,62.64 L355.3,62.67 L355.55,62.58 L355.8,62.01 L356.05,61.43 L356.3,60.85 L356.55,60.27 L356.8,59.69 L357.05,59.12 L357.3,58.32 L357.55,58.3 L357.8,58.91 L358.05,59.52 L358.3,60.14 L358.55,60.75 L358.8,61.36 L359.05,61.98 L359.3,62.72 L359.55,63.49 L359.8,64.27 L360.05,65.04 L360.3,65.81 L360.55,66.59 L360.8,67.36 L361.05,68.14 L361.3,68.79 L361.55,69.26 L361.8,69.73 L362.05,70.19 L362.3,70.66 L362.55,71.13 L362.8,71.6 L363.05,71.6 L363.3,71.6 L363.55,71.6 L363.8,71.6 L364.05,71.6 L364.3,71.6 L364.55,71.75 L364.8,71.91 L365.05,72.06 L365.3,72.22 L365.55,72.37 L365.8,72.47 L366.05,72.56 L366.3,72.65 L366.55,72.74 L366.8,72.83 L367.05,72.81 L367.3,72.38 L367.55,71.95 L367.8,71.52 L368.05,71.09 L368.3,70.65 L368.55,70.22 L368.8,69.79 L369.05,69.36 L369.3,68.85 L369.55,68.24 L369.8,67.63 L370.05,67.01 L370.3,66.4 L370.55,65.79 L370.8,65.17 L371.05,64.56 L371.3,63.95 L371.55,63.49 L371.8,63.15 L372.05,62.81 L372.3,62.46 L372.55,62.12 L372.8,61.77 L373.05,61.55 L373.3,61.8 L373.55,62.05 L373.8,62.3 L374.05,62.55 L374.3,62.8 L374.55,63.16 L374.8,64.18 L375.05,65.19 L375.3,66.39 L375.55,67.87 L375.8,69.35 L376.05,70.82 L376.3,72.3 L376.55,73.53 L376.8,75.6 L377.05,75.97 L377.3,77.2 L377.55,77.2 L377.8,77.2 L378.05,77.32 L378.3,77.66 L378.55,77.75 L378.8,77.66 L379.05,77.57 L379.3,77.48 L379.55,77.39 L379.8,77.31 L380.05,77.22 L380.3,76.73 L380.55,76.13 L380.8,75.54 L381.05,75.13 L381.3,75.9 L381.55,76.67 L381.8,77.43 L382.05,78.19 L382.3,78.94 L382.55,79.69 L382.8,80.43 L383.05,81.16 L383.3,81.9 L383.55,82.62 L383.8,83.34 L384.05,84.05 L384.3,84.76 L384.55,85.46 L384.8,86.15 L385.05,86.84 L385.3,87.52 L385.55,88.2 L385.8,88.87 L386.05,89.53 L386.3,90.33 L386.55,91.55 L386.8,91.8 L387.05,93.95 L387.3,95.17 L387.55,96.4 L387.8,97.63 L388.05,98.85 L388.3,99.26 L388.55,99.47 L388.8,99.67 L389.05,99.87 L389.3,100.08 L389.55,100.28 L389.8,100.49 L390.05,100.69 L390.3,100.89 L390.55,101.1 L390.8,101.3 L391.05,101.4 L391.3,101.92 L391.55,102.45 L391.8,102.96 L392.05,103.46 L392.3,103.97 L392.55,104.45 L392.8,104.94 L393.05,105.42 L393.3,105.89 L393.55,106.36 L393.8,106.83 L394.05,107.28 L394.3,107.73 L394.55,108.18 L394.8,108.61 L395.05,109.04 L395.3,109.47 L395.55,109.88 L395.8,110.3 L396.05,110.71 L396.3,111.11 L396.55,111.51 L396.8,111.9 L397.05,112.28 L397.3,112.66 L397.55,113.04 L397.8,113.41 L398.05,113.77 L398.3,114.13 L398.55,114.48 L398.8,114.83 L399.05,115.18 L399.3,115.51 L399.55,115.84 L399.8,116.17 L400.05,116.49 L400.3,116.81 L400.55,117.13 L400.8,117.43 L401.05,117.73 L401.3,118.04 L401.55,118.33 L401.8,118.62 L402.05,118.9 L402.3,119.18 L402.55,119.46 L402.8,119.73 L403.05,120 L403.3,120.26 L403.55,120.52 L403.8,120.77 L404.05,121.03 L404.3,121.27 L404.55,121.51 L404.8,121.75 L405.05,121.99 L405.3,122.22 L405.55,122.45 L405.8,122.67 L406.05,122.89 L406.3,123.11 L406.55,123.32 L406.8,123.89 L407.05,124.47 L407.3,125.06 L407.55,125.65 L407.8,126.23 L408.05,126.76 L408.3,127.07 L408.55,127.37 L408.8,127.68 L409.05,127.98 L409.3,128.29 L409.55,128.59 L409.8,128.9 L410.05,129.21 L410.3,129.51 L410.55,129.82 L410.8,130.03 L411.05,130.11 L411.3,130.2 L411.55,130.28 L411.8,130.36 L412.05,130.44 L412.3,130.52 L412.55,130.6 L412.8,130.68 L413.05,130.76 L413.3,130.85 L413.55,130.93 L413.8,131.01 L414.05,131.09 L414.3,131.17 L414.55,131.25 L414.8,131.38 L415.05,131.57 L415.3,131.77 L415.55,131.96 L415.8,132.15 L416.05,132.35 L416.3,132.54 L416.55,132.73 L416.8,132.93 L417.05,133.12 L417.3,133.32 L417.55,133.51 L417.8,133.7 L418.05,133.9 L418.3,134.09 L418.55,134.28 L418.8,134.42 L419.05,134.47 L419.3,134.52 L419.55,134.56 L419.8,134.61 L420.05,134.66 L420.3,134.71 L420.55,134.76 L420.8,134.8 L421.05,134.85 L421.3,134.9 L421.55,134.79 L421.8,134.68 L422.05,134.56 L422.3,134.45 L422.55,134.34 L422.8,134.22 L423.05,134.11 L423.3,134 L423.55,133.89 L423.8,133.78 L424.05,133.66 L424.3,133.55 L424.55,133.44 L424.8,133.32 L425.05,133.21 L425.3,133.1 L425.55,133.11 L425.8,133.12 L426.05,133.14 L426.3,133.2 L426.55,133.26 L426.8,133.31 L427.05,133.35 L427.3,133.38 L427.55,133.42 L427.8,133.45 L428.05,133.49 L428.3,133.52 L428.55,133.55 L428.8,133.59 L429.05,133.62 L429.3,133.66 L429.55,133.69 L429.8,133.73 L430.05,133.76 L430.3,133.8 L430.55,133.83 L430.8,133.9 L431.05,134 L431.3,134.1 L431.55,134.2 L431.8,134.3 L432.05,134.4 L432.3,134.5 L432.55,134.6 L432.8,134.7 L433.05,134.8 L433.3,134.9 L433.55,134.9 L433.8,134.9 L434.05,134.9 L434.3,134.9 L434.55,134.9 L434.8,134.89 L435.05,134.89 L435.3,134.89 L435.55,134.89 L435.8,134.89 L436.05,134.89 L436.3,134.89 L436.55,134.89 L436.8,134.89 L437.05,134.89 L437.3,134.89 L437.55,134.88 L437.8,134.88 L438.05,134.88 L438.3,134.88 L438.55,134.88 L438.8,134.88 L439.05,134.88 L439.3,134.88 L439.55,134.88 L439.8,134.88 L440.05,134.9 L440.3,134.9 L440.55,134.9 L440.8,134.9 L441.05,134.89 L441.3,134.89 L441.55,134.89 L441.8,134.89 L442.05,134.89 L442.3,134.89 L442.55,134.89 L442.8,134.89 L443.05,134.88 L443.3,134.88 L443.55,134.88 L443.8,134.88 L444.05,134.88 L444.3,134.88 L444.55,134.88 L444.8,134.88 L445.05,134.87 L445.3,134.87 L445.55,134.87 L445.8,134.87 L446.05,134.87 L446.3,134.87 L446.55,134.87 L446.8,134.87 L447.05,134.86 L447.3,134.86 L447.55,134.86 L447.8,134.86 L448.05,134.86 L448.3,134.86 L448.55,134.86 L448.8,134.86 L449.05,134.85 L449.3,134.85 L449.55,134.85 L449.8,134.85 L450.05,134.85 L450.3,134.85 L450.55,134.85 L450.8,134.85 L451.05,134.84 L451.3,134.84 L451.55,134.84 L451.8,134.84 L452.05,134.84 L452.3,134.84 L452.55,134.84 L452.8,134.84 L453.05,134.83 L453.3,134.83 L453.55,134.83 L453.8,134.83 L454.05,134.83 L454.3,134.83 L454.55,134.83 L454.8,134.83 L455.05,134.82 L455.3,134.82 L455.55,134.82 L455.8,134.82 L456.05,134.82 L456.3,134.82 L456.55,134.82 L456.8,134.82 L457.05,134.81 L457.3,134.81 L457.55,134.81 L457.8,134.81 L458.05,134.81 L458.3,134.81 L458.55,134.81 L458.8,134.81 L459.05,134.8 L459.3,134.8 L459.55,134.8 L459.8,134.8 L460.05,134.8 L460.3,134.8 L460.55,134.8 L460.8,134.8 L461.05,134.8 L461.05,134.7 Z" fill="#ebe8da" stroke="none"/>
<path d="M341.5,134.6C341.62,133.05 341.9,129.65 342.2,125.3C342.5,120.95 342.85,114.1 343.3,108.5C343.75,102.9 344.42,97.28 344.9,91.7C345.38,86.12 345.88,81.12 346.2,75C346.52,68.88 346.58,60.83 346.8,55C347.02,49.17 347.22,44.5 347.5,40C347.78,35.5 348.08,31.52 348.5,28C348.92,24.48 349.48,19.18 350,18.9C350.52,18.62 351.2,23.72 351.6,26.3C352,28.88 352.15,31.15 352.4,34.4C352.65,37.65 352.72,42.82 353.1,45.8C353.48,48.78 354.07,50.48 354.7,52.3C355.33,54.12 356.17,55.07 356.9,56.7C357.63,58.33 358.38,60.12 359.1,62.1C359.82,64.08 360.58,67.02 361.2,68.6C361.82,70.18 362.28,71.1 362.8,71.6C363.32,72.1 363.83,71.47 364.3,71.6C364.77,71.73 365.15,72.18 365.6,72.4C366.05,72.62 366.4,73.45 367,72.9C367.6,72.35 368.47,70.63 369.2,69.1C369.93,67.57 370.77,64.97 371.4,63.7C372.03,62.43 372.37,61.5 373,61.5C373.63,61.5 374.48,63.15 375.2,63.7C375.92,64.25 376.67,64.8 377.3,64.8C377.93,64.8 378.45,63.53 379,63.7C379.55,63.87 380.15,64.53 380.6,65.8C381.05,67.07 381.25,69.48 381.7,71.3C382.15,73.12 382.77,74.9 383.3,76.7C383.83,78.5 384.37,79.63 384.9,82.1C385.43,84.57 385.68,89.38 386.5,91.5C387.32,93.62 388.72,94.08 389.8,94.8C390.88,95.52 391.92,95.45 393,95.8C394.08,96.15 395.48,96.17 396.3,96.9C397.12,97.63 397.45,99.12 397.9,100.2C398.35,101.28 398.55,102.05 399,103.4C399.45,104.75 400.07,106.67 400.6,108.3C401.13,109.93 401.57,111.67 402.2,113.2C402.83,114.73 403.67,116.05 404.4,117.5C405.13,118.95 406,120.6 406.6,121.9C407.2,123.2 407.1,124.5 408,125.3C408.9,126.1 410.88,126.58 412,126.7C413.12,126.82 413.82,125.78 414.7,126C415.58,126.22 416.2,127 417.3,128C418.4,129 419.73,131.12 421.3,132C422.87,132.88 424.47,132.9 426.7,133.3C428.93,133.7 432.48,134.13 434.7,134.4C436.92,134.67 435.78,134.83 440,134.9C444.22,134.97 456.67,134.82 460,134.8" fill="none" stroke="#22dd22" stroke-width="1.05" stroke-linejoin="round"/>
<path d="M341.5,134.6C341.63,133 341.97,129.43 342.3,125C342.63,120.57 343.05,113.83 343.5,108C343.95,102.17 344.53,96.33 345,90C345.47,83.67 345.93,75.83 346.3,70C346.67,64.17 346.92,58.75 347.2,55C347.48,51.25 347.72,49.1 348,47.5C348.28,45.9 348.6,45.57 348.9,45.4C349.2,45.23 349.47,45.98 349.8,46.5C350.13,47.02 350.47,46.92 350.9,48.5C351.33,50.08 351.87,53.67 352.4,56C352.93,58.33 353.58,61.38 354.1,62.5C354.62,63.62 355,63.28 355.5,62.7C356,62.12 356.52,60.7 357.1,59C357.68,57.3 358.35,54.23 359,52.5C359.65,50.77 360.42,49.17 361,48.6C361.58,48.03 362.02,48.3 362.5,49.1C362.98,49.9 363.3,51.87 363.9,53.4C364.5,54.93 365.5,57.43 366.1,58.3C366.7,59.17 366.95,59.42 367.5,58.6C368.05,57.78 368.82,55.17 369.4,53.4C369.98,51.63 370.47,48.65 371,48C371.53,47.35 372.07,48.05 372.6,49.5C373.13,50.95 373.65,53.95 374.2,56.7C374.75,59.45 375.47,62.85 375.9,66C376.33,69.15 376.38,73.63 376.8,75.6C377.22,77.57 377.85,77.53 378.4,77.8C378.95,78.07 379.55,77.93 380.1,77.2C380.65,76.47 381.17,74.3 381.7,73.4C382.23,72.5 382.77,71.98 383.3,71.8C383.83,71.62 384.35,71.67 384.9,72.3C385.45,72.93 386.05,73.97 386.6,75.6C387.15,77.23 387.67,79.95 388.2,82.1C388.73,84.25 389.37,86.03 389.8,88.5C390.23,90.97 390.35,94.68 390.8,96.9C391.25,99.12 391.77,100.9 392.5,101.8C393.23,102.7 394.4,102.38 395.2,102.3C396,102.22 396.58,100.75 397.3,101.3C398.02,101.85 398.87,104.17 399.5,105.6C400.13,107.03 400.55,108.27 401.1,109.9C401.65,111.53 402.23,113.97 402.8,115.4C403.37,116.83 403.63,116.62 404.5,118.5C405.37,120.38 406.97,124.78 408,126.7C409.03,128.62 409.58,129.23 410.7,130C411.82,130.77 413.37,130.57 414.7,131.3C416.03,132.03 417.6,133.8 418.7,134.4C419.8,135 420.2,135.12 421.3,134.9C422.4,134.68 423.97,133.37 425.3,133.1C426.63,132.83 427.97,133 429.3,133.3C430.63,133.6 428.18,134.65 433.3,134.9C438.42,135.15 455.55,134.82 460,134.8" fill="none" stroke="#dd2222" stroke-width="1.05" stroke-linejoin="round"/>
<path d="M341.5,134.6C341.65,133 342.02,129.43 342.4,125C342.78,120.57 343.33,113.5 343.8,108C344.27,102.5 344.75,96.67 345.2,92C345.65,87.33 346.03,84.33 346.5,80C346.97,75.67 347.55,69.97 348,66C348.45,62.03 348.73,58.55 349.2,56.2C349.67,53.85 350.23,53.13 350.8,51.9C351.37,50.67 352.03,50.17 352.6,48.8C353.17,47.43 353.67,45.45 354.2,43.7C354.73,41.95 355.27,39.48 355.8,38.3C356.33,37.12 356.85,36.78 357.4,36.6C357.95,36.42 358.55,36.38 359.1,37.2C359.65,38.02 360.17,39.88 360.7,41.5C361.23,43.12 361.77,45.27 362.3,46.9C362.83,48.53 363.27,49.67 363.9,51.3C364.53,52.93 365.47,55.5 366.1,56.7C366.73,57.9 367.08,58.42 367.7,58.5C368.32,58.58 369.1,57.7 369.8,57.2C370.5,56.7 371.27,55.15 371.9,55.5C372.53,55.85 373.05,57.58 373.6,59.3C374.15,61.02 374.75,63.63 375.2,65.8C375.65,67.97 375.95,70.4 376.3,72.3C376.65,74.2 376.85,76.38 377.3,77.2C377.75,78.02 378.53,78.02 379,77.2C379.47,76.38 379.75,74.42 380.1,72.3C380.45,70.18 380.75,66.12 381.1,64.5C381.45,62.88 381.83,62.2 382.2,62.6C382.57,63 382.93,64.92 383.3,66.9C383.67,68.88 383.95,71.97 384.4,74.5C384.85,77.03 385.57,78.9 386,82.1C386.43,85.3 386.65,90.87 387,93.7C387.35,96.53 387.47,97.83 388.1,99.1C388.73,100.37 389.8,100.77 390.8,101.3C391.8,101.83 393.02,101.95 394.1,102.3C395.18,102.65 396.4,102.48 397.3,103.4C398.2,104.32 398.77,106.17 399.5,107.8C400.23,109.43 400.98,111.58 401.7,113.2C402.42,114.82 402.9,115.87 403.8,117.5C404.7,119.13 406.07,121.42 407.1,123C408.13,124.58 408.97,125.95 410,127C411.03,128.05 411.63,128.47 413.3,129.3C414.97,130.13 417.77,131.37 420,132C422.23,132.63 424.48,133.05 426.7,133.1C428.92,133.15 431.53,132.27 433.3,132.3C435.07,132.33 435.52,132.9 437.3,133.3C439.08,133.7 440.22,134.45 444,134.7C447.78,134.95 457.33,134.78 460,134.8" fill="none" stroke="#1a1acc" stroke-width="1.05" stroke-linejoin="round"/>
<path d="M341.8,134.7 L342.54,134.08 L343.29,132.07 L344.03,128.77 L344.77,124.4 L345.52,119.18 L346.26,113.3 L347,106.99 L347.75,100.39 L348.49,93.68 L349.23,86.97 L349.97,80.38 L350.72,73.99 L351.46,67.89 L352.2,62.13 L352.95,56.76 L353.69,51.8 L354.43,47.29 L355.18,43.23 L355.92,39.63 L356.66,36.48 L357.41,33.8 L358.15,31.55 L358.89,29.73 L359.63,28.33 L360.38,27.32 L361.12,26.68 L361.86,26.39 L362.61,26.42 L363.35,26.76 L364.09,27.38 L364.84,28.26 L365.58,29.37 L366.32,30.69 L367.07,32.2 L367.81,33.89 L368.55,35.72 L369.3,37.69 L370.04,39.77 L370.78,41.94 L371.53,44.2 L372.27,46.52 L373.01,48.9 L373.75,51.32 L374.5,53.76 L375.24,56.23 L375.98,58.7 L376.73,61.16 L377.47,63.62 L378.21,66.07 L378.96,68.49 L379.7,70.88 L380.44,73.23 L381.19,75.55 L381.93,77.83 L382.67,80.05 L383.42,82.23 L384.16,84.36 L384.9,86.44 L385.64,88.45 L386.39,90.42 L387.13,92.32 L387.87,94.17 L388.62,95.96 L389.36,97.69 L390.1,99.36 L390.85,100.97 L391.59,102.53 L392.33,104.03 L393.08,105.47 L393.82,106.86 L394.56,108.2 L395.31,109.48 L396.05,110.71 L396.79,111.89 L397.53,113.02 L398.28,114.1 L399.02,115.14 L399.76,116.13 L400.51,117.07 L401.25,117.98 L401.99,118.84 L402.74,119.66 L403.48,120.45 L404.22,121.2 L404.97,121.91 L405.71,122.59 L406.45,123.24 L407.19,123.85 L407.94,124.44 L408.68,125 L409.42,125.53 L410.17,126.03 L410.91,126.5 L411.65,126.96 L412.4,127.39 L413.14,127.79 L413.88,128.18 L414.63,128.55 L415.37,128.89 L416.11,129.22 L416.86,129.53 L417.6,129.83 L418.34,130.11 L419.08,130.37 L419.83,130.62 L420.57,130.85 L421.31,131.08 L422.06,131.29 L422.8,131.49 L423.54,131.67 L424.29,131.85 L425.03,132.02 L425.77,132.18 L426.52,132.33 L427.26,132.47 L428,132.6 L428.75,132.72 L429.49,132.84 L430.23,132.95 L430.98,133.06 L431.72,133.16 L432.46,133.25 L433.2,133.34 L433.95,133.42 L434.69,133.5 L435.43,133.57 L436.18,133.64 L436.92,133.71 L437.66,133.77 L438.41,133.82 L439.15,133.88 L439.89,133.93 L440.64,133.98 L441.38,134.02 L442.12,134.06 L442.87,134.1 L443.61,134.14 L444.35,134.17 L445.09,134.21 L445.84,134.24 L446.58,134.27 L447.32,134.29 L448.07,134.32 L448.81,134.34 L449.55,134.37 L450.3,134.39 L451.04,134.41 L451.78,134.43 L452.53,134.44 L453.27,134.46 L454.01,134.47 L454.75,134.49 L455.5,134.5 L456.24,134.52 L456.98,134.53 L457.73,134.54 L458.47,134.55 L459.21,134.56 L459.96,134.57 L460.7,134.58" fill="none" stroke="#1a1acc" stroke-width="1.05"/>
<rect x="339" y="1.5" width="123.2" height="135.8" fill="none" stroke="#000" stroke-width="1.25"/>
<line x1="339" y1="134.7" x2="342.2" y2="134.7" stroke="#111" stroke-width="1"/>
<line x1="339" y1="4" x2="342.2" y2="4" stroke="#111" stroke-width="1"/>
<line x1="341.8" y1="137.3" x2="341.8" y2="134.3" stroke="#111" stroke-width="1"/>
<line x1="401" y1="137.3" x2="401" y2="134.3" stroke="#111" stroke-width="1"/>
<line x1="460.2" y1="137.3" x2="460.2" y2="134.3" stroke="#111" stroke-width="1"/>
<text x="335" y="8.9" font-size="13" text-anchor="end" fill="#000" stroke="#000" stroke-width="0.2" style="">1</text>
<text x="335.9" y="139.2" font-size="13" text-anchor="end" fill="#000" stroke="#000" stroke-width="0.2" style="">0</text>
<text x="341.8" y="153.4" font-size="13" text-anchor="middle" fill="#000" stroke="#000" stroke-width="0.2" style="">0</text>
<text x="401" y="153.4" font-size="13" text-anchor="middle" fill="#000" stroke="#000" stroke-width="0.2" style="">2</text>
<text x="460.2" y="153.4" font-size="13" text-anchor="middle" fill="#000" stroke="#000" stroke-width="0.2" style="">4</text>
<text transform="translate(400,177.3) skewX(-10)" font-size="13.5" text-anchor="middle" fill="#000" stroke="#000" stroke-width="0.2" font-style="italic">&#958;</text>
<text x="413.6" y="55.8" font-size="13" fill="#000" stroke="#000" stroke-width="0.2">&#916;=10<tspan font-size="9" dy="-5.6">2</tspan></text>
<text x="75.8" y="21.6" font-size="13" textLength="76.3" lengthAdjust="spacing" fill="#000" stroke="#000" stroke-width="0.2"><tspan font-style="italic">T</tspan>=<tspan fill="#22dd22" stroke="#22dd22">10<tspan font-size="9" dy="-5.6">3</tspan></tspan><tspan dy="5.6">;</tspan><tspan fill="#dd2222" stroke="#dd2222">10<tspan font-size="9" dy="-5.6">4</tspan></tspan><tspan dy="5.6">;</tspan><tspan fill="#1a1acc" stroke="#1a1acc">10<tspan font-size="9" dy="-5.6">5</tspan></tspan></text>
<text transform="translate(13.2,69.7) rotate(-90)" font-size="13" text-anchor="middle" fill="#000" stroke="#000" stroke-width="0.2"><tspan font-style="italic">&#981;</tspan>(<tspan font-style="italic">&#958;</tspan>)</text>
</svg>
</body></html>
